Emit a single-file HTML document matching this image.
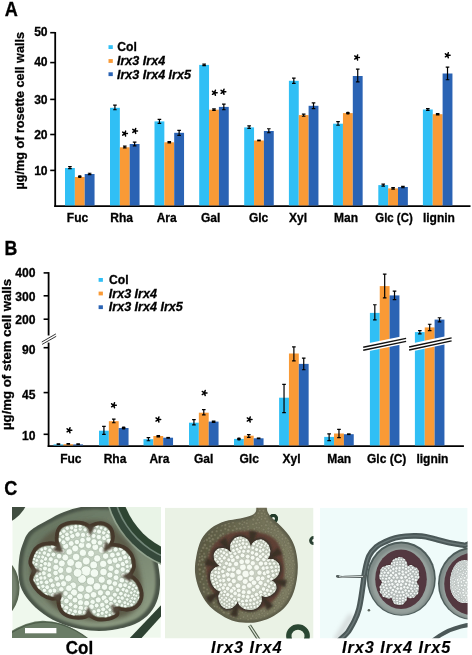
<!DOCTYPE html>
<html><head><meta charset="utf-8"><style>
html,body{margin:0;padding:0;background:#fff;}
svg{display:block;font-family:"Liberation Sans", sans-serif;}
text{opacity:0.999;}
</style></head><body>
<svg width="472" height="655" viewBox="0 0 472 655">
<rect width="472" height="655" fill="#fff"/>
<defs>
<filter id="b1" x="-20%" y="-20%" width="140%" height="140%"><feGaussianBlur stdDeviation="1.2"/></filter>
<filter id="b2" x="-20%" y="-20%" width="140%" height="140%"><feGaussianBlur stdDeviation="0.6"/></filter>
<filter id="b3" x="-20%" y="-20%" width="140%" height="140%"><feGaussianBlur stdDeviation="2.2"/></filter>
<filter id="b4" x="-20%" y="-20%" width="140%" height="140%"><feGaussianBlur stdDeviation="0.35"/></filter>
<filter id="soft" x="0" y="0" width="100%" height="100%"><feGaussianBlur stdDeviation="0.4"/></filter>
<clipPath id="c1"><rect x="12.5" y="507.7" width="148.2" height="130"/></clipPath>
<clipPath id="c2"><rect x="165" y="507.7" width="148.5" height="130.8"/></clipPath>
<clipPath id="c3"><rect x="320" y="507.7" width="147.6" height="130.5"/></clipPath>
</defs>
<g clip-path="url(#c1)"><g filter="url(#soft)">
<rect x="12.5" y="507.7" width="148.2" height="130" fill="#eff8ed"/>
<path d="M10 505H26.5Q21 516 10 522Z" fill="#414d40" filter="url(#b4)"/>
<ellipse cx="-3" cy="588" rx="22.5" ry="31" fill="#56634f" filter="url(#b2)"/>
<ellipse cx="-3.5" cy="588" rx="20.5" ry="28.5" fill="#76836f" filter="url(#b1)"/>
<path d="M8 645L8 633Q30 619.5 46 621Q70 622 95 645Z" fill="#6a7b66" filter="url(#b4)"/>
<path d="M9 634Q30 621 46 622.2Q70 623 93 643" stroke="#4e5e4b" stroke-width="1.3" fill="none" filter="url(#b4)"/>
<path d="M126 642L166 600L166 611L138 642Z" fill="#2e4331" filter="url(#b2)"/>
<path d="M18.5 575.0C18.1 569.3 18.7 561.5 19.5 556.0C20.3 550.5 21.8 546.2 23.5 542.0C25.2 537.8 26.1 534.6 30.0 531.0C33.9 527.4 41.3 523.7 47.0 520.5C52.7 517.3 58.3 514.2 64.0 512.0C69.7 509.8 75.0 508.1 81.0 507.0C87.0 505.9 93.8 505.3 100.0 505.5C106.2 505.7 111.7 505.2 118.0 508.0C124.3 510.8 132.7 516.7 138.0 522.0C143.3 527.3 146.8 533.7 150.0 540.0C153.2 546.3 155.3 553.3 157.0 560.0C158.7 566.7 159.8 573.7 160.0 580.0C160.2 586.3 159.7 592.5 158.0 598.0C156.3 603.5 153.8 608.7 150.0 613.0C146.2 617.3 141.3 621.2 135.0 624.0C128.7 626.8 119.5 628.9 112.0 630.0C104.5 631.1 97.3 631.2 90.0 630.5C82.7 629.8 75.0 628.2 68.0 626.0C61.0 623.8 54.0 620.7 48.0 617.0C42.0 613.3 36.3 608.5 32.0 604.0C27.7 599.5 24.2 594.8 22.0 590.0C19.8 585.2 18.9 580.7 18.5 575.0Z" fill="#4c574a" filter="url(#b4)"/>
<defs><linearGradient id="g1" x1="0" y1="0" x2="0.6" y2="1"><stop offset="0" stop-color="#64725e"/><stop offset="0.5" stop-color="#74826e"/><stop offset="1" stop-color="#8a987f"/></linearGradient></defs>
<path d="M22.6 574.7C22.2 569.4 22.8 562.0 23.6 556.8C24.3 551.7 25.7 547.6 27.3 543.7C29.0 539.8 29.7 536.7 33.4 533.3C37.1 530.0 44.1 526.4 49.4 523.5C54.7 520.5 60.1 517.6 65.4 515.5C70.7 513.4 75.7 511.8 81.4 510.8C87.0 509.8 93.4 509.2 99.2 509.4C105.0 509.5 110.2 509.1 116.1 511.7C122.1 514.3 129.9 519.9 134.9 524.9C140.0 529.9 143.2 535.8 146.2 541.8C149.2 547.8 151.2 554.3 152.8 560.6C154.4 566.9 155.5 573.4 155.6 579.4C155.8 585.4 155.3 591.2 153.7 596.3C152.2 601.5 149.8 606.3 146.2 610.4C142.6 614.5 138.1 618.1 132.1 620.8C126.2 623.4 117.5 625.4 110.5 626.4C103.5 627.4 96.7 627.5 89.8 626.9C82.9 626.2 75.7 624.8 69.1 622.6C62.6 620.5 56.0 617.6 50.3 614.2C44.7 610.7 39.4 606.2 35.3 602.0C31.2 597.7 28.0 593.3 25.9 588.8C23.8 584.3 23.0 580.0 22.6 574.7Z" fill="url(#g1)" filter="url(#b1)"/>
<g filter="url(#b4)">
<circle cx="198" cy="478" r="94.5" fill="#93a490"/>
<circle cx="198" cy="478" r="92.8" fill="#36493a"/>
<circle cx="198" cy="478" r="86.6" fill="#73887a"/>
<circle cx="198" cy="478" r="85" fill="#2f4433"/>
<circle cx="198" cy="478" r="78" fill="#e9f4e7"/>
</g>
<path d="M33.7 551.5C35.1 548.3 37.5 544.6 39.7 541.8C42.0 539.0 44.2 536.7 47.1 534.5C49.9 532.3 53.1 530.2 56.8 528.4C60.5 526.6 64.5 524.7 69.0 523.5C73.5 522.3 79.5 521.6 83.6 521.1C87.7 520.6 90.1 520.4 93.4 520.4C96.6 520.4 99.9 520.2 103.1 521.1C106.3 522.0 110.0 523.7 112.8 526.0C115.7 528.2 117.7 531.9 120.2 534.5C122.6 537.1 125.0 538.6 127.5 541.8C129.9 545.1 132.7 549.1 134.8 554.0C136.8 558.9 138.4 565.4 139.6 571.0C140.9 576.7 141.9 582.8 142.1 588.1C142.3 593.4 142.5 598.7 140.9 602.7C139.2 606.8 135.4 610.0 132.3 612.5C129.3 614.9 126.2 616.1 122.6 617.3C118.9 618.6 114.9 619.2 110.4 619.8C105.9 620.4 100.7 621.2 95.8 621.0C90.9 620.8 86.0 619.6 81.2 618.6C76.3 617.5 71.0 616.7 66.5 614.9C62.1 613.1 58.0 610.4 54.4 607.6C50.7 604.7 47.9 601.1 44.6 597.8C41.4 594.6 37.1 591.8 34.9 588.1C32.6 584.4 31.8 580.4 31.2 575.9C30.6 571.4 30.8 565.4 31.2 561.3C31.6 557.2 32.2 554.8 33.7 551.5Z" fill="#5b5c4a" filter="url(#b3)"/>
<path d="M34.9 554.0C36.1 551.5 37.5 549.3 39.7 547.9C42.0 546.5 45.6 545.7 48.3 545.5C50.9 545.2 53.7 545.5 55.6 546.2C57.5 546.9 59.2 551.1 59.7 549.6C60.3 548.1 58.4 540.5 58.8 536.9C59.1 533.4 59.6 530.4 61.7 528.4C63.8 526.4 68.0 525.3 71.4 524.7C74.9 524.2 79.5 524.6 82.4 525.2C85.2 525.8 87.1 527.4 88.5 528.4C89.8 529.4 89.7 531.3 90.4 531.1C91.2 530.9 91.2 528.2 92.9 527.2C94.6 526.2 98.1 525.0 100.7 525.2C103.2 525.4 106.3 526.5 108.0 528.4C109.7 530.4 110.8 534.2 110.9 536.9C111.0 539.7 109.3 542.8 108.5 544.7C107.6 546.7 105.3 548.3 106.0 548.6C106.8 549.0 110.1 546.6 112.8 546.7C115.6 546.8 119.7 547.5 122.6 549.1C125.4 550.7 128.4 553.6 129.9 556.4C131.4 559.3 132.1 563.3 131.9 566.2C131.6 569.0 129.6 571.8 128.7 573.5C127.8 575.2 125.6 575.4 126.2 576.4C126.9 577.4 130.5 578.0 132.3 579.6C134.2 581.1 136.0 583.0 137.2 585.7C138.4 588.3 139.9 592.4 139.6 595.4C139.4 598.5 138.0 601.9 136.0 603.9C134.0 606.0 130.5 607.2 127.5 607.6C124.4 608.0 120.0 606.3 117.7 606.4C115.5 606.5 114.5 606.9 114.1 608.1C113.7 609.3 116.3 612.2 115.3 613.7C114.3 615.1 110.8 616.2 108.0 616.9C105.1 617.5 101.1 617.9 98.2 617.3C95.4 616.8 92.5 614.7 90.9 613.7C89.3 612.7 89.5 611.3 88.5 611.5C87.5 611.7 87.3 614.3 84.8 614.9C82.4 615.6 77.3 616.0 73.9 615.4C70.4 614.8 66.3 613.4 64.1 611.2C61.9 609.1 60.9 605.2 60.5 602.7C60.1 600.3 61.9 597.8 61.7 596.6C61.5 595.4 60.9 595.4 59.2 595.4C57.6 595.4 54.6 597.0 51.9 596.6C49.3 596.2 45.8 594.6 43.4 593.0C41.0 591.3 39.0 589.2 37.3 586.9C35.6 584.5 33.3 581.5 33.2 578.8C33.0 576.2 36.5 573.5 36.3 570.8C36.2 568.1 32.7 565.6 32.4 562.8C32.2 560.0 33.7 556.5 34.9 554.0Z" fill="#45372c" stroke="#45372c" stroke-width="8" stroke-linejoin="round" filter="url(#b2)"/>
<path d="M34.9 554.0C36.1 551.5 37.5 549.3 39.7 547.9C42.0 546.5 45.6 545.7 48.3 545.5C50.9 545.2 53.7 545.5 55.6 546.2C57.5 546.9 59.2 551.1 59.7 549.6C60.3 548.1 58.4 540.5 58.8 536.9C59.1 533.4 59.6 530.4 61.7 528.4C63.8 526.4 68.0 525.3 71.4 524.7C74.9 524.2 79.5 524.6 82.4 525.2C85.2 525.8 87.1 527.4 88.5 528.4C89.8 529.4 89.7 531.3 90.4 531.1C91.2 530.9 91.2 528.2 92.9 527.2C94.6 526.2 98.1 525.0 100.7 525.2C103.2 525.4 106.3 526.5 108.0 528.4C109.7 530.4 110.8 534.2 110.9 536.9C111.0 539.7 109.3 542.8 108.5 544.7C107.6 546.7 105.3 548.3 106.0 548.6C106.8 549.0 110.1 546.6 112.8 546.7C115.6 546.8 119.7 547.5 122.6 549.1C125.4 550.7 128.4 553.6 129.9 556.4C131.4 559.3 132.1 563.3 131.9 566.2C131.6 569.0 129.6 571.8 128.7 573.5C127.8 575.2 125.6 575.4 126.2 576.4C126.9 577.4 130.5 578.0 132.3 579.6C134.2 581.1 136.0 583.0 137.2 585.7C138.4 588.3 139.9 592.4 139.6 595.4C139.4 598.5 138.0 601.9 136.0 603.9C134.0 606.0 130.5 607.2 127.5 607.6C124.4 608.0 120.0 606.3 117.7 606.4C115.5 606.5 114.5 606.9 114.1 608.1C113.7 609.3 116.3 612.2 115.3 613.7C114.3 615.1 110.8 616.2 108.0 616.9C105.1 617.5 101.1 617.9 98.2 617.3C95.4 616.8 92.5 614.7 90.9 613.7C89.3 612.7 89.5 611.3 88.5 611.5C87.5 611.7 87.3 614.3 84.8 614.9C82.4 615.6 77.3 616.0 73.9 615.4C70.4 614.8 66.3 613.4 64.1 611.2C61.9 609.1 60.9 605.2 60.5 602.7C60.1 600.3 61.9 597.8 61.7 596.6C61.5 595.4 60.9 595.4 59.2 595.4C57.6 595.4 54.6 597.0 51.9 596.6C49.3 596.2 45.8 594.6 43.4 593.0C41.0 591.3 39.0 589.2 37.3 586.9C35.6 584.5 33.3 581.5 33.2 578.8C33.0 576.2 36.5 573.5 36.3 570.8C36.2 568.1 32.7 565.6 32.4 562.8C32.2 560.0 33.7 556.5 34.9 554.0Z" fill="#c3d0c0" stroke="#5f5c4c" stroke-width="0.8" filter="url(#b4)"/>
<clipPath id="p1"><path d="M34.9 554.0C36.1 551.5 37.5 549.3 39.7 547.9C42.0 546.5 45.6 545.7 48.3 545.5C50.9 545.2 53.7 545.5 55.6 546.2C57.5 546.9 59.2 551.1 59.7 549.6C60.3 548.1 58.4 540.5 58.8 536.9C59.1 533.4 59.6 530.4 61.7 528.4C63.8 526.4 68.0 525.3 71.4 524.7C74.9 524.2 79.5 524.6 82.4 525.2C85.2 525.8 87.1 527.4 88.5 528.4C89.8 529.4 89.7 531.3 90.4 531.1C91.2 530.9 91.2 528.2 92.9 527.2C94.6 526.2 98.1 525.0 100.7 525.2C103.2 525.4 106.3 526.5 108.0 528.4C109.7 530.4 110.8 534.2 110.9 536.9C111.0 539.7 109.3 542.8 108.5 544.7C107.6 546.7 105.3 548.3 106.0 548.6C106.8 549.0 110.1 546.6 112.8 546.7C115.6 546.8 119.7 547.5 122.6 549.1C125.4 550.7 128.4 553.6 129.9 556.4C131.4 559.3 132.1 563.3 131.9 566.2C131.6 569.0 129.6 571.8 128.7 573.5C127.8 575.2 125.6 575.4 126.2 576.4C126.9 577.4 130.5 578.0 132.3 579.6C134.2 581.1 136.0 583.0 137.2 585.7C138.4 588.3 139.9 592.4 139.6 595.4C139.4 598.5 138.0 601.9 136.0 603.9C134.0 606.0 130.5 607.2 127.5 607.6C124.4 608.0 120.0 606.3 117.7 606.4C115.5 606.5 114.5 606.9 114.1 608.1C113.7 609.3 116.3 612.2 115.3 613.7C114.3 615.1 110.8 616.2 108.0 616.9C105.1 617.5 101.1 617.9 98.2 617.3C95.4 616.8 92.5 614.7 90.9 613.7C89.3 612.7 89.5 611.3 88.5 611.5C87.5 611.7 87.3 614.3 84.8 614.9C82.4 615.6 77.3 616.0 73.9 615.4C70.4 614.8 66.3 613.4 64.1 611.2C61.9 609.1 60.9 605.2 60.5 602.7C60.1 600.3 61.9 597.8 61.7 596.6C61.5 595.4 60.9 595.4 59.2 595.4C57.6 595.4 54.6 597.0 51.9 596.6C49.3 596.2 45.8 594.6 43.4 593.0C41.0 591.3 39.0 589.2 37.3 586.9C35.6 584.5 33.3 581.5 33.2 578.8C33.0 576.2 36.5 573.5 36.3 570.8C36.2 568.1 32.7 565.6 32.4 562.8C32.2 560.0 33.7 556.5 34.9 554.0Z"/></clipPath>
<g clip-path="url(#p1)"><g fill="#f3fbf2" stroke="#95a692" stroke-width="0.5"><circle cx="86.0" cy="571.0" r="5.2"/><circle cx="82.0" cy="578.9" r="4.4"/><circle cx="77.6" cy="572.8" r="4.4"/><circle cx="78.6" cy="564.9" r="4.0"/><circle cx="86.2" cy="561.0" r="4.0"/><circle cx="93.7" cy="565.0" r="4.0"/><circle cx="94.4" cy="573.1" r="4.3"/><circle cx="90.6" cy="581.0" r="4.1"/><circle cx="89.1" cy="589.2" r="4.0"/><circle cx="80.9" cy="588.6" r="3.7"/><circle cx="73.1" cy="585.5" r="3.5"/><circle cx="68.4" cy="578.3" r="3.6"/><circle cx="68.9" cy="570.0" r="3.5"/><circle cx="70.6" cy="562.5" r="4.0"/><circle cx="76.1" cy="557.0" r="3.8"/><circle cx="82.9" cy="552.8" r="3.7"/><circle cx="91.0" cy="553.5" r="3.5"/><circle cx="97.2" cy="558.4" r="3.6"/><circle cx="103.2" cy="563.9" r="3.7"/><circle cx="103.5" cy="572.0" r="3.8"/><circle cx="101.7" cy="579.7" r="3.6"/><circle cx="96.9" cy="586.4" r="3.9"/><circle cx="86.9" cy="596.3" r="3.3"/><circle cx="79.9" cy="596.4" r="3.4"/><circle cx="74.0" cy="592.5" r="3.6"/><circle cx="68.9" cy="588.2" r="3.3"/><circle cx="63.6" cy="583.7" r="3.1"/><circle cx="61.6" cy="577.0" r="3.0"/><circle cx="60.4" cy="570.2" r="3.4"/><circle cx="61.8" cy="563.4" r="3.5"/><circle cx="65.3" cy="557.5" r="3.4"/><circle cx="69.3" cy="551.9" r="3.3"/><circle cx="75.2" cy="548.4" r="3.5"/><circle cx="81.5" cy="545.1" r="3.3"/><circle cx="88.5" cy="545.6" r="3.1"/><circle cx="95.3" cy="547.1" r="3.4"/><circle cx="101.9" cy="549.9" r="3.5"/><circle cx="105.6" cy="556.1" r="3.2"/><circle cx="109.8" cy="561.6" r="3.0"/><circle cx="110.9" cy="568.4" r="3.1"/><circle cx="109.9" cy="575.0" r="3.1"/><circle cx="109.3" cy="582.0" r="3.1"/><circle cx="104.5" cy="587.1" r="3.2"/><circle cx="100.4" cy="592.8" r="3.1"/><circle cx="93.6" cy="594.8" r="3.3"/><circle cx="109.8" cy="549.6" r="3.1"/><circle cx="112.4" cy="555.1" r="2.9"/><circle cx="115.1" cy="560.3" r="3.1"/><circle cx="117.9" cy="565.8" r="2.7"/><circle cx="116.6" cy="571.9" r="2.8"/><circle cx="116.0" cy="577.7" r="2.9"/><circle cx="114.9" cy="583.6" r="2.8"/><circle cx="111.0" cy="588.1" r="2.9"/><circle cx="107.8" cy="593.1" r="2.9"/><circle cx="104.0" cy="597.9" r="3.0"/><circle cx="98.2" cy="599.9" r="3.0"/><circle cx="92.6" cy="602.0" r="2.7"/><circle cx="86.6" cy="603.2" r="3.0"/><circle cx="80.5" cy="602.7" r="3.1"/><circle cx="75.0" cy="600.1" r="2.9"/><circle cx="70.0" cy="596.9" r="3.0"/><circle cx="65.5" cy="593.4" r="2.7"/><circle cx="61.3" cy="589.3" r="2.7"/><circle cx="58.1" cy="584.4" r="2.7"/><circle cx="56.7" cy="578.7" r="2.7"/><circle cx="55.6" cy="573.0" r="2.8"/><circle cx="55.9" cy="567.3" r="3.1"/><circle cx="56.0" cy="561.2" r="2.7"/><circle cx="59.1" cy="556.1" r="2.8"/><circle cx="62.2" cy="551.1" r="2.7"/><circle cx="65.7" cy="546.1" r="3.1"/><circle cx="71.2" cy="543.5" r="2.9"/><circle cx="76.9" cy="542.0" r="2.7"/><circle cx="82.5" cy="540.2" r="2.8"/><circle cx="88.4" cy="539.0" r="2.7"/><circle cx="94.0" cy="541.8" r="3.1"/><circle cx="99.9" cy="542.8" r="2.7"/><circle cx="105.0" cy="545.9" r="2.7"/><circle cx="48.9" cy="564.4" r="2.7"/><circle cx="50.8" cy="559.2" r="2.5"/><circle cx="53.4" cy="554.5" r="2.4"/><circle cx="55.5" cy="549.5" r="2.6"/><circle cx="63.5" cy="542.3" r="2.5"/><circle cx="67.5" cy="538.5" r="2.8"/><circle cx="72.4" cy="536.1" r="2.7"/><circle cx="77.6" cy="534.5" r="2.7"/><circle cx="83.1" cy="534.9" r="2.6"/><circle cx="88.4" cy="534.6" r="2.4"/><circle cx="93.6" cy="535.9" r="2.5"/><circle cx="98.8" cy="537.0" r="2.7"/><circle cx="104.2" cy="538.0" r="2.6"/><circle cx="108.8" cy="541.1" r="2.8"/><circle cx="115.6" cy="549.6" r="2.5"/><circle cx="118.1" cy="554.2" r="2.4"/><circle cx="120.2" cy="559.1" r="2.6"/><circle cx="122.9" cy="564.0" r="2.7"/><circle cx="122.7" cy="569.4" r="2.6"/><circle cx="123.2" cy="574.9" r="2.4"/><circle cx="121.9" cy="580.2" r="2.8"/><circle cx="120.4" cy="585.4" r="2.7"/><circle cx="117.5" cy="589.9" r="2.4"/><circle cx="114.8" cy="594.7" r="2.5"/><circle cx="111.1" cy="598.7" r="2.8"/><circle cx="106.4" cy="601.4" r="2.5"/><circle cx="102.2" cy="605.0" r="2.7"/><circle cx="96.6" cy="605.5" r="2.4"/><circle cx="91.5" cy="606.7" r="2.8"/><circle cx="86.2" cy="608.4" r="2.4"/><circle cx="80.8" cy="608.0" r="2.8"/><circle cx="75.5" cy="606.6" r="2.5"/><circle cx="70.6" cy="604.5" r="2.4"/><circle cx="66.4" cy="601.0" r="2.8"/><circle cx="61.4" cy="598.8" r="2.6"/><circle cx="57.2" cy="595.2" r="2.5"/><circle cx="54.1" cy="590.7" r="2.7"/><circle cx="52.7" cy="585.4" r="2.5"/><circle cx="50.9" cy="580.4" r="2.5"/><circle cx="49.3" cy="575.3" r="2.5"/><circle cx="49.4" cy="569.9" r="2.4"/><circle cx="120.9" cy="548.8" r="2.3"/><circle cx="123.6" cy="552.8" r="2.5"/><circle cx="125.1" cy="557.3" r="2.5"/><circle cx="126.6" cy="561.8" r="2.3"/><circle cx="127.4" cy="566.5" r="2.1"/><circle cx="127.5" cy="571.2" r="2.2"/><circle cx="127.0" cy="580.8" r="2.2"/><circle cx="125.1" cy="585.2" r="2.4"/><circle cx="123.3" cy="589.6" r="2.2"/><circle cx="120.9" cy="593.7" r="2.3"/><circle cx="118.4" cy="597.8" r="2.1"/><circle cx="114.9" cy="601.1" r="2.2"/><circle cx="111.0" cy="603.8" r="2.4"/><circle cx="107.3" cy="606.8" r="2.3"/><circle cx="103.2" cy="609.4" r="2.5"/><circle cx="98.6" cy="610.6" r="2.3"/><circle cx="94.0" cy="611.8" r="2.3"/><circle cx="84.6" cy="612.5" r="2.3"/><circle cx="79.8" cy="612.1" r="2.5"/><circle cx="75.1" cy="611.5" r="2.4"/><circle cx="70.4" cy="610.4" r="2.2"/><circle cx="66.3" cy="607.8" r="2.5"/><circle cx="62.0" cy="605.7" r="2.2"/><circle cx="52.8" cy="594.8" r="2.2"/><circle cx="50.3" cy="590.9" r="2.4"/><circle cx="47.1" cy="587.2" r="2.5"/><circle cx="46.6" cy="582.3" r="2.4"/><circle cx="44.7" cy="577.9" r="2.2"/><circle cx="43.8" cy="573.2" r="2.5"/><circle cx="45.0" cy="568.4" r="2.5"/><circle cx="45.2" cy="563.7" r="2.3"/><circle cx="45.3" cy="558.8" r="2.4"/><circle cx="48.3" cy="554.8" r="2.3"/><circle cx="49.9" cy="550.3" r="2.2"/><circle cx="52.9" cy="546.7" r="2.2"/><circle cx="59.5" cy="540.0" r="2.3"/><circle cx="62.8" cy="536.6" r="2.1"/><circle cx="66.9" cy="534.3" r="2.3"/><circle cx="71.1" cy="532.1" r="2.1"/><circle cx="75.4" cy="529.9" r="2.4"/><circle cx="80.2" cy="529.0" r="2.1"/><circle cx="85.1" cy="529.8" r="2.1"/><circle cx="94.4" cy="530.7" r="2.2"/><circle cx="99.0" cy="531.6" r="2.5"/><circle cx="103.7" cy="532.8" r="2.2"/><circle cx="107.4" cy="536.0" r="2.5"/><circle cx="129.2" cy="587.3" r="2.0"/><circle cx="126.7" cy="590.9" r="2.2"/><circle cx="125.4" cy="595.1" r="2.2"/><circle cx="122.2" cy="598.1" r="2.2"/><circle cx="119.5" cy="601.4" r="2.2"/><circle cx="116.9" cy="604.8" r="2.0"/><circle cx="113.7" cy="607.7" r="2.2"/><circle cx="109.9" cy="609.8" r="1.9"/><circle cx="106.4" cy="612.2" r="2.0"/><circle cx="102.2" cy="613.3" r="2.0"/><circle cx="98.1" cy="614.6" r="2.0"/><circle cx="73.0" cy="614.5" r="2.0"/><circle cx="69.0" cy="612.9" r="2.0"/><circle cx="65.2" cy="611.1" r="2.1"/><circle cx="45.9" cy="594.4" r="2.0"/><circle cx="44.4" cy="590.4" r="2.2"/><circle cx="42.9" cy="586.3" r="2.1"/><circle cx="41.2" cy="582.3" r="2.2"/><circle cx="40.9" cy="578.0" r="2.2"/><circle cx="39.8" cy="573.8" r="2.1"/><circle cx="40.3" cy="569.5" r="2.0"/><circle cx="41.1" cy="565.3" r="1.9"/><circle cx="41.8" cy="561.1" r="2.2"/><circle cx="42.7" cy="556.9" r="2.0"/><circle cx="44.4" cy="553.0" r="2.2"/><circle cx="45.2" cy="548.6" r="2.1"/><circle cx="60.4" cy="533.5" r="2.0"/><circle cx="63.9" cy="531.2" r="2.2"/><circle cx="67.3" cy="528.3" r="2.1"/><circle cx="71.7" cy="527.8" r="2.2"/><circle cx="75.8" cy="526.5" r="2.0"/><circle cx="80.1" cy="526.2" r="2.0"/><circle cx="97.1" cy="526.4" r="1.9"/><circle cx="101.1" cy="528.0" r="1.9"/><circle cx="105.2" cy="529.4" r="1.9"/><circle cx="108.7" cy="531.9" r="2.0"/><circle cx="129.8" cy="557.7" r="2.0"/><circle cx="131.1" cy="566.1" r="2.1"/><circle cx="130.9" cy="583.3" r="2.1"/><circle cx="133.7" cy="585.3" r="1.9"/><circle cx="132.6" cy="589.1" r="1.7"/><circle cx="131.2" cy="592.7" r="1.8"/><circle cx="128.5" cy="595.7" r="1.8"/><circle cx="127.2" cy="599.5" r="1.8"/><circle cx="124.9" cy="602.7" r="2.0"/><circle cx="122.0" cy="605.4" r="1.8"/><circle cx="113.2" cy="613.2" r="1.9"/><circle cx="109.7" cy="615.0" r="1.7"/><circle cx="105.9" cy="616.1" r="1.8"/><circle cx="38.6" cy="587.6" r="2.0"/><circle cx="37.9" cy="583.7" r="1.8"/><circle cx="37.4" cy="579.8" r="2.0"/><circle cx="36.9" cy="576.0" r="1.9"/><circle cx="36.7" cy="572.1" r="1.9"/><circle cx="35.6" cy="568.2" r="1.8"/><circle cx="36.2" cy="564.3" r="1.9"/><circle cx="36.8" cy="560.4" r="1.9"/><circle cx="38.7" cy="556.8" r="2.0"/><circle cx="39.6" cy="553.0" r="1.7"/><circle cx="41.8" cy="549.7" r="1.9"/><circle cx="136.2" cy="588.0" r="1.7"/><circle cx="134.8" cy="591.4" r="1.7"/><circle cx="134.2" cy="595.1" r="1.8"/><circle cx="132.3" cy="598.2" r="1.8"/><circle cx="130.5" cy="601.3" r="1.8"/><circle cx="128.0" cy="603.9" r="1.8"/><circle cx="125.2" cy="606.3" r="1.8"/><circle cx="33.8" cy="580.5" r="1.7"/><circle cx="33.3" cy="562.6" r="1.7"/><circle cx="34.2" cy="559.1" r="1.6"/><circle cx="35.2" cy="555.7" r="1.9"/><circle cx="36.6" cy="552.3" r="1.7"/><circle cx="137.8" cy="592.7" r="1.8"/><circle cx="136.3" cy="595.7" r="1.5"/><circle cx="134.7" cy="598.7" r="1.6"/><circle cx="133.8" cy="602.1" r="1.7"/><circle cx="131.6" cy="604.8" r="1.8"/><circle cx="138.9" cy="597.8" r="1.6"/></g></g>
<path d="M63.6 552.8L59.3 542.2L52.4 550.7Z" fill="#4f4538" filter="url(#b1)"/>
<path d="M89.9 536.1L94.9 526.5L86.9 525.7Z" fill="#4f4538" filter="url(#b1)"/>
<path d="M102.8 552.4L113.1 548.1L105.5 541.6Z" fill="#4f4538" filter="url(#b1)"/>
<path d="M121.3 575.8L130.6 582.0L131.8 572.1Z" fill="#4f4538" filter="url(#b1)"/>
<path d="M111.1 604.1L113.5 614.8L120.7 609.4Z" fill="#4f4538" filter="url(#b1)"/>
<path d="M88.2 606.5L84.2 616.7L93.2 616.3Z" fill="#4f4538" filter="url(#b1)"/>
<path d="M63.0 592.1L52.2 594.9L58.8 602.5Z" fill="#4f4538" filter="url(#b1)"/>
<path d="M41.3 570.9L31.4 566.7L31.3 574.7Z" fill="#4f4538" filter="url(#b1)"/>
<rect x="25" y="628" width="31.4" height="5.3" fill="#fff"/>
</g></g>
<g clip-path="url(#c2)"><g filter="url(#soft)">
<rect x="165" y="507.7" width="148.5" height="130.8" fill="#eaf2e5"/>
<circle cx="273.4" cy="518.6" r="3.2" fill="none" stroke="#243b2a" stroke-width="3.2" filter="url(#b4)"/>
<circle cx="313.6" cy="540.6" r="3.0" fill="none" stroke="#2a4030" stroke-width="3.0" filter="url(#b4)"/>
<circle cx="298" cy="636.2" r="9.2" fill="none" stroke="#2c4731" stroke-width="5.4" filter="url(#b4)"/>
<path d="M249.5 625.4L259 640" stroke="#4c5a46" stroke-width="3.4" filter="url(#b4)"/>
<path d="M249.5 625.4L259 640" stroke="#dfe8da" stroke-width="1.3" filter="url(#b4)"/>
<path d="M225.0 521.2C229.8 519.6 235.8 519.3 240.1 518.4C244.5 517.5 248.5 516.7 251.1 515.6C253.7 514.5 254.8 513.3 255.7 511.9C256.6 510.5 256.2 508.7 256.4 507.2C256.6 505.7 255.3 503.7 256.9 503.0C258.5 502.3 264.6 502.3 266.2 503.0C267.8 503.7 266.4 505.7 266.7 507.2C266.9 508.7 266.8 510.2 267.6 511.9C268.4 513.6 269.4 515.1 271.6 517.5C273.7 519.8 277.5 522.8 280.4 525.8C283.3 528.9 286.6 532.1 289.0 535.6C291.5 539.2 293.4 542.6 294.9 547.3C296.3 551.9 297.4 558.2 297.7 563.6C298.0 569.0 297.7 574.5 296.7 579.9C295.8 585.4 294.3 591.4 292.1 596.2C289.8 601.1 286.8 605.5 283.2 609.0C279.6 612.6 274.7 615.5 270.4 617.7C266.1 619.8 261.7 621.0 257.6 621.9C253.5 622.7 250.2 623.0 245.9 622.8C241.7 622.6 236.6 622.1 231.9 620.5C227.3 618.8 222.0 615.8 218.0 613.0C213.9 610.2 210.6 607.6 207.5 603.7C204.4 599.8 201.4 594.8 199.3 589.7C197.3 584.6 195.6 578.4 195.1 572.9C194.6 567.4 195.3 562.1 196.3 556.6C197.3 551.1 198.7 544.6 201.2 539.8C203.6 535.1 207.0 531.3 211.0 528.2C214.9 525.1 220.1 522.8 225.0 521.2Z" fill="#5c5b48" filter="url(#b2)"/>
<defs><linearGradient id="g2" x1="0" y1="0" x2="1" y2="0.3"><stop offset="0" stop-color="#525039"/><stop offset="0.55" stop-color="#706f56"/><stop offset="1" stop-color="#7e7d63"/></linearGradient></defs>
<path d="M226.0 523.7C230.6 522.1 236.2 521.9 240.3 521.0C244.5 520.1 248.0 519.9 250.8 518.4C253.5 516.8 255.8 513.7 256.9 511.9C258.1 510.0 257.4 508.7 257.6 507.2C257.8 505.7 256.9 503.7 258.1 503.0C259.3 502.3 263.8 502.3 265.0 503.0C266.2 503.7 265.2 505.7 265.5 507.2C265.7 508.7 265.6 509.7 266.4 511.9C267.2 514.0 268.2 517.4 270.2 520.1C272.3 522.8 275.9 525.2 278.7 528.1C281.4 531.0 284.6 534.0 286.8 537.4C289.1 540.8 291.0 544.0 292.4 548.5C293.7 552.9 294.7 558.8 295.0 564.0C295.3 569.1 295.0 574.3 294.1 579.5C293.3 584.6 291.9 590.4 289.7 595.0C287.6 599.6 284.7 603.7 281.3 607.1C277.9 610.5 273.2 613.3 269.1 615.3C265.1 617.4 260.8 618.5 257.0 619.3C253.1 620.1 249.9 620.4 245.9 620.2C241.8 620.0 237.0 619.5 232.6 618.0C228.2 616.4 223.2 613.6 219.3 610.9C215.4 608.2 212.3 605.7 209.4 602.1C206.4 598.4 203.6 593.6 201.6 588.8C199.7 583.9 198.1 578.1 197.6 572.8C197.1 567.6 197.8 562.6 198.7 557.3C199.7 552.1 201.1 545.9 203.4 541.4C205.7 536.9 208.9 533.3 212.7 530.3C216.4 527.4 221.3 525.2 226.0 523.7Z" fill="url(#g2)" filter="url(#b1)"/>
<clipPath id="q2"><path d="M226.0 523.7C230.6 522.1 236.2 521.9 240.3 521.0C244.5 520.1 248.0 519.9 250.8 518.4C253.5 516.8 255.8 513.7 256.9 511.9C258.1 510.0 257.4 508.7 257.6 507.2C257.8 505.7 256.9 503.7 258.1 503.0C259.3 502.3 263.8 502.3 265.0 503.0C266.2 503.7 265.2 505.7 265.5 507.2C265.7 508.7 265.6 509.7 266.4 511.9C267.2 514.0 268.2 517.4 270.2 520.1C272.3 522.8 275.9 525.2 278.7 528.1C281.4 531.0 284.6 534.0 286.8 537.4C289.1 540.8 291.0 544.0 292.4 548.5C293.7 552.9 294.7 558.8 295.0 564.0C295.3 569.1 295.0 574.3 294.1 579.5C293.3 584.6 291.9 590.4 289.7 595.0C287.6 599.6 284.7 603.7 281.3 607.1C277.9 610.5 273.2 613.3 269.1 615.3C265.1 617.4 260.8 618.5 257.0 619.3C253.1 620.1 249.9 620.4 245.9 620.2C241.8 620.0 237.0 619.5 232.6 618.0C228.2 616.4 223.2 613.6 219.3 610.9C215.4 608.2 212.3 605.7 209.4 602.1C206.4 598.4 203.6 593.6 201.6 588.8C199.7 583.9 198.1 578.1 197.6 572.8C197.1 567.6 197.8 562.6 198.7 557.3C199.7 552.1 201.1 545.9 203.4 541.4C205.7 536.9 208.9 533.3 212.7 530.3C216.4 527.4 221.3 525.2 226.0 523.7Z"/></clipPath>
<g clip-path="url(#q2)" opacity="0.6"><g fill="#8f8d73" stroke="#5c5a45" stroke-width="0.45"><circle cx="231.2" cy="615.9" r="1.4"/><circle cx="236.2" cy="568.8" r="1.4"/><circle cx="240.2" cy="576.6" r="1.5"/><circle cx="230.4" cy="565.0" r="1.5"/><circle cx="212.8" cy="539.2" r="1.5"/><circle cx="279.5" cy="562.9" r="1.2"/><circle cx="286.4" cy="584.5" r="1.5"/><circle cx="211.4" cy="535.8" r="1.4"/><circle cx="246.8" cy="523.4" r="1.3"/><circle cx="259.5" cy="573.9" r="1.3"/><circle cx="237.3" cy="596.4" r="1.3"/><circle cx="281.1" cy="571.9" r="1.4"/><circle cx="215.5" cy="561.1" r="1.4"/><circle cx="222.5" cy="579.3" r="1.4"/><circle cx="248.6" cy="600.7" r="1.4"/><circle cx="273.8" cy="539.8" r="1.4"/><circle cx="230.9" cy="555.3" r="1.3"/><circle cx="293.0" cy="554.0" r="1.4"/><circle cx="282.4" cy="538.8" r="1.5"/><circle cx="278.4" cy="537.5" r="1.4"/><circle cx="293.1" cy="560.8" r="1.5"/><circle cx="220.2" cy="548.0" r="1.4"/><circle cx="218.0" cy="538.1" r="1.5"/><circle cx="244.7" cy="597.0" r="1.3"/><circle cx="213.1" cy="544.1" r="1.3"/><circle cx="207.1" cy="565.5" r="1.3"/><circle cx="279.4" cy="543.3" r="1.3"/><circle cx="214.9" cy="535.0" r="1.3"/><circle cx="211.3" cy="586.5" r="1.2"/><circle cx="222.9" cy="602.2" r="1.2"/><circle cx="240.5" cy="602.3" r="1.5"/><circle cx="233.8" cy="617.2" r="1.3"/><circle cx="222.0" cy="610.0" r="1.4"/><circle cx="232.9" cy="530.5" r="1.4"/><circle cx="217.1" cy="606.7" r="1.2"/><circle cx="247.6" cy="566.6" r="1.3"/><circle cx="273.9" cy="547.4" r="1.4"/><circle cx="253.2" cy="538.3" r="1.3"/><circle cx="228.1" cy="581.2" r="1.2"/><circle cx="252.6" cy="544.5" r="1.4"/><circle cx="224.2" cy="549.6" r="1.5"/><circle cx="274.3" cy="608.0" r="1.5"/><circle cx="208.9" cy="534.2" r="1.2"/><circle cx="264.6" cy="581.3" r="1.3"/><circle cx="237.4" cy="580.8" r="1.4"/><circle cx="259.4" cy="522.6" r="1.2"/><circle cx="288.3" cy="589.9" r="1.4"/><circle cx="213.7" cy="602.7" r="1.4"/><circle cx="268.3" cy="531.5" r="1.3"/><circle cx="265.0" cy="543.0" r="1.2"/><circle cx="280.3" cy="595.1" r="1.3"/><circle cx="275.9" cy="526.1" r="1.5"/><circle cx="235.5" cy="591.5" r="1.5"/><circle cx="238.6" cy="613.8" r="1.4"/><circle cx="270.6" cy="601.6" r="1.4"/><circle cx="239.0" cy="562.8" r="1.5"/><circle cx="208.4" cy="593.3" r="1.2"/><circle cx="266.9" cy="598.6" r="1.3"/><circle cx="251.0" cy="618.5" r="1.4"/><circle cx="250.8" cy="530.9" r="1.2"/><circle cx="231.8" cy="550.6" r="1.3"/><circle cx="263.6" cy="529.5" r="1.3"/><circle cx="247.9" cy="554.7" r="1.5"/><circle cx="231.2" cy="536.9" r="1.5"/><circle cx="209.9" cy="569.1" r="1.3"/><circle cx="278.4" cy="567.3" r="1.5"/><circle cx="212.7" cy="581.7" r="1.4"/><circle cx="242.4" cy="593.8" r="1.5"/><circle cx="215.5" cy="585.9" r="1.3"/><circle cx="206.9" cy="540.0" r="1.4"/><circle cx="204.0" cy="587.8" r="1.5"/><circle cx="239.6" cy="523.6" r="1.4"/><circle cx="259.3" cy="614.4" r="1.4"/><circle cx="221.0" cy="530.4" r="1.2"/><circle cx="275.2" cy="601.6" r="1.4"/><circle cx="228.7" cy="523.0" r="1.5"/><circle cx="228.0" cy="545.4" r="1.4"/><circle cx="233.0" cy="601.7" r="1.3"/><circle cx="199.7" cy="569.5" r="1.4"/><circle cx="278.8" cy="586.4" r="1.5"/><circle cx="203.6" cy="584.3" r="1.2"/><circle cx="240.5" cy="618.6" r="1.2"/><circle cx="199.5" cy="554.0" r="1.3"/><circle cx="238.3" cy="541.7" r="1.3"/><circle cx="263.2" cy="601.1" r="1.5"/><circle cx="257.4" cy="536.7" r="1.4"/><circle cx="225.9" cy="542.3" r="1.5"/><circle cx="233.3" cy="571.2" r="1.3"/><circle cx="249.3" cy="569.3" r="1.3"/><circle cx="221.0" cy="560.1" r="1.4"/><circle cx="218.5" cy="570.2" r="1.2"/><circle cx="247.6" cy="572.2" r="1.2"/><circle cx="283.3" cy="567.5" r="1.4"/><circle cx="252.7" cy="594.9" r="1.2"/><circle cx="238.8" cy="608.7" r="1.4"/><circle cx="230.2" cy="593.5" r="1.4"/><circle cx="199.9" cy="574.0" r="1.2"/><circle cx="251.3" cy="598.3" r="1.2"/><circle cx="289.6" cy="582.7" r="1.3"/><circle cx="215.1" cy="554.9" r="1.5"/><circle cx="206.7" cy="598.0" r="1.3"/><circle cx="251.8" cy="535.8" r="1.4"/><circle cx="250.2" cy="584.5" r="1.5"/><circle cx="210.8" cy="561.6" r="1.5"/><circle cx="278.7" cy="583.2" r="1.3"/><circle cx="235.5" cy="606.8" r="1.4"/><circle cx="286.4" cy="572.2" r="1.2"/><circle cx="254.1" cy="547.7" r="1.3"/><circle cx="223.2" cy="533.8" r="1.4"/><circle cx="222.1" cy="569.8" r="1.4"/><circle cx="274.2" cy="577.6" r="1.4"/><circle cx="226.4" cy="593.5" r="1.4"/><circle cx="247.2" cy="577.8" r="1.3"/><circle cx="251.5" cy="549.9" r="1.2"/><circle cx="229.7" cy="539.8" r="1.5"/><circle cx="244.4" cy="545.2" r="1.3"/><circle cx="219.3" cy="543.0" r="1.2"/><circle cx="240.8" cy="569.7" r="1.3"/><circle cx="226.8" cy="589.0" r="1.4"/><circle cx="274.2" cy="552.6" r="1.5"/><circle cx="202.3" cy="559.5" r="1.5"/><circle cx="256.8" cy="605.7" r="1.4"/><circle cx="215.5" cy="589.9" r="1.5"/><circle cx="284.5" cy="542.0" r="1.2"/><circle cx="214.6" cy="565.9" r="1.5"/><circle cx="201.3" cy="550.9" r="1.2"/><circle cx="259.1" cy="541.2" r="1.4"/><circle cx="256.3" cy="531.8" r="1.4"/><circle cx="269.1" cy="540.6" r="1.2"/><circle cx="262.3" cy="573.7" r="1.3"/><circle cx="273.1" cy="595.0" r="1.3"/><circle cx="223.8" cy="564.2" r="1.5"/><circle cx="262.1" cy="594.8" r="1.3"/><circle cx="274.6" cy="530.0" r="1.5"/><circle cx="276.9" cy="556.5" r="1.3"/><circle cx="202.1" cy="579.1" r="1.3"/><circle cx="259.2" cy="527.8" r="1.3"/><circle cx="222.1" cy="553.3" r="1.3"/><circle cx="216.1" cy="592.9" r="1.4"/><circle cx="253.4" cy="519.6" r="1.5"/><circle cx="244.8" cy="609.0" r="1.2"/><circle cx="254.4" cy="608.0" r="1.3"/><circle cx="268.3" cy="607.9" r="1.5"/><circle cx="265.6" cy="505.1" r="1.4"/><circle cx="219.0" cy="552.9" r="1.2"/><circle cx="209.3" cy="552.7" r="1.3"/><circle cx="265.2" cy="518.5" r="1.4"/><circle cx="245.9" cy="612.4" r="1.3"/><circle cx="247.2" cy="550.2" r="1.4"/><circle cx="261.9" cy="566.7" r="1.4"/><circle cx="268.4" cy="549.1" r="1.3"/><circle cx="234.6" cy="550.4" r="1.2"/><circle cx="271.3" cy="604.4" r="1.4"/><circle cx="259.5" cy="591.0" r="1.3"/><circle cx="257.8" cy="583.0" r="1.3"/><circle cx="243.6" cy="588.4" r="1.4"/><circle cx="243.9" cy="527.4" r="1.2"/><circle cx="289.8" cy="564.9" r="1.4"/><circle cx="280.1" cy="600.1" r="1.2"/><circle cx="231.7" cy="598.3" r="1.4"/><circle cx="248.4" cy="529.4" r="1.3"/><circle cx="215.9" cy="570.0" r="1.2"/><circle cx="228.4" cy="529.9" r="1.5"/><circle cx="258.3" cy="545.7" r="1.2"/><circle cx="240.5" cy="545.2" r="1.4"/><circle cx="254.3" cy="613.1" r="1.3"/><circle cx="263.1" cy="540.6" r="1.2"/><circle cx="245.4" cy="562.8" r="1.5"/><circle cx="263.6" cy="590.7" r="1.3"/><circle cx="267.8" cy="559.3" r="1.2"/><circle cx="265.7" cy="551.4" r="1.4"/><circle cx="210.3" cy="541.2" r="1.4"/><circle cx="222.1" cy="538.6" r="1.3"/><circle cx="283.6" cy="598.2" r="1.5"/><circle cx="250.0" cy="546.0" r="1.4"/><circle cx="228.4" cy="533.8" r="1.5"/><circle cx="255.7" cy="555.9" r="1.5"/><circle cx="276.9" cy="561.2" r="1.4"/><circle cx="264.1" cy="536.4" r="1.3"/><circle cx="225.3" cy="528.8" r="1.4"/><circle cx="227.9" cy="568.8" r="1.2"/><circle cx="288.2" cy="540.0" r="1.5"/><circle cx="210.9" cy="597.8" r="1.5"/><circle cx="205.0" cy="557.0" r="1.4"/><circle cx="239.2" cy="583.2" r="1.2"/><circle cx="244.7" cy="605.7" r="1.4"/><circle cx="256.3" cy="618.3" r="1.3"/><circle cx="291.5" cy="580.4" r="1.2"/><circle cx="270.9" cy="522.3" r="1.5"/><circle cx="205.2" cy="567.7" r="1.5"/><circle cx="233.6" cy="581.2" r="1.2"/><circle cx="281.1" cy="606.9" r="1.4"/><circle cx="207.4" cy="560.9" r="1.4"/><circle cx="249.9" cy="562.2" r="1.3"/><circle cx="215.6" cy="549.7" r="1.3"/><circle cx="253.5" cy="584.4" r="1.3"/><circle cx="225.1" cy="608.9" r="1.2"/><circle cx="254.3" cy="529.0" r="1.4"/><circle cx="275.2" cy="587.1" r="1.2"/><circle cx="220.4" cy="573.5" r="1.5"/><circle cx="242.4" cy="612.6" r="1.2"/><circle cx="291.1" cy="550.7" r="1.3"/><circle cx="274.7" cy="611.1" r="1.5"/><circle cx="209.2" cy="601.4" r="1.5"/><circle cx="277.0" cy="572.4" r="1.3"/><circle cx="265.1" cy="587.0" r="1.3"/><circle cx="275.2" cy="597.1" r="1.4"/><circle cx="230.0" cy="572.9" r="1.5"/><circle cx="238.0" cy="574.1" r="1.4"/><circle cx="229.6" cy="526.5" r="1.3"/><circle cx="281.3" cy="575.9" r="1.3"/><circle cx="207.7" cy="583.7" r="1.2"/><circle cx="235.6" cy="561.3" r="1.5"/><circle cx="241.7" cy="599.1" r="1.3"/><circle cx="283.1" cy="563.1" r="1.3"/><circle cx="203.2" cy="576.5" r="1.3"/><circle cx="264.3" cy="611.0" r="1.4"/><circle cx="269.6" cy="591.8" r="1.2"/><circle cx="271.5" cy="578.6" r="1.3"/><circle cx="273.0" cy="535.9" r="1.4"/><circle cx="211.9" cy="590.4" r="1.2"/><circle cx="259.5" cy="532.1" r="1.5"/><circle cx="272.1" cy="583.1" r="1.3"/><circle cx="261.0" cy="618.3" r="1.4"/><circle cx="265.8" cy="594.8" r="1.3"/><circle cx="291.1" cy="590.9" r="1.3"/><circle cx="235.4" cy="598.6" r="1.3"/><circle cx="214.3" cy="606.6" r="1.4"/><circle cx="263.4" cy="570.9" r="1.3"/><circle cx="278.9" cy="579.5" r="1.5"/><circle cx="256.8" cy="600.9" r="1.3"/><circle cx="217.1" cy="527.7" r="1.2"/><circle cx="232.0" cy="585.7" r="1.2"/><circle cx="259.4" cy="517.4" r="1.3"/><circle cx="217.6" cy="597.1" r="1.3"/><circle cx="209.1" cy="555.8" r="1.4"/><circle cx="267.5" cy="555.9" r="1.3"/><circle cx="212.1" cy="577.5" r="1.5"/><circle cx="231.6" cy="610.0" r="1.5"/><circle cx="243.9" cy="600.6" r="1.2"/><circle cx="216.7" cy="531.2" r="1.2"/><circle cx="285.5" cy="559.5" r="1.4"/><circle cx="255.0" cy="578.0" r="1.4"/><circle cx="261.5" cy="584.8" r="1.4"/><circle cx="261.6" cy="525.7" r="1.3"/><circle cx="281.9" cy="603.8" r="1.2"/><circle cx="210.5" cy="574.3" r="1.5"/><circle cx="270.0" cy="597.5" r="1.5"/><circle cx="264.7" cy="604.0" r="1.3"/><circle cx="240.4" cy="586.5" r="1.3"/><circle cx="227.4" cy="576.8" r="1.3"/><circle cx="249.4" cy="579.6" r="1.4"/><circle cx="240.7" cy="589.2" r="1.2"/><circle cx="255.1" cy="581.0" r="1.3"/><circle cx="232.4" cy="588.5" r="1.2"/><circle cx="276.4" cy="535.2" r="1.3"/><circle cx="260.7" cy="557.9" r="1.5"/><circle cx="244.4" cy="522.4" r="1.2"/><circle cx="261.9" cy="563.2" r="1.2"/><circle cx="271.6" cy="571.5" r="1.5"/><circle cx="247.5" cy="616.0" r="1.4"/><circle cx="228.2" cy="550.1" r="1.3"/><circle cx="263.5" cy="503.3" r="1.3"/><circle cx="252.6" cy="587.2" r="1.2"/><circle cx="241.5" cy="550.3" r="1.5"/><circle cx="249.3" cy="603.9" r="1.5"/><circle cx="263.8" cy="597.9" r="1.2"/><circle cx="243.8" cy="583.0" r="1.4"/><circle cx="270.2" cy="544.3" r="1.4"/><circle cx="209.3" cy="549.9" r="1.3"/><circle cx="203.4" cy="571.4" r="1.5"/><circle cx="237.9" cy="558.8" r="1.3"/><circle cx="222.2" cy="596.9" r="1.4"/><circle cx="230.2" cy="560.4" r="1.3"/><circle cx="289.9" cy="568.7" r="1.2"/><circle cx="268.4" cy="528.4" r="1.5"/><circle cx="258.0" cy="610.3" r="1.3"/><circle cx="242.4" cy="524.6" r="1.2"/><circle cx="268.3" cy="564.9" r="1.5"/><circle cx="244.6" cy="531.2" r="1.4"/><circle cx="258.4" cy="513.3" r="1.3"/><circle cx="213.1" cy="593.6" r="1.3"/><circle cx="243.5" cy="617.0" r="1.4"/><circle cx="224.8" cy="557.1" r="1.4"/><circle cx="238.0" cy="600.6" r="1.5"/><circle cx="228.7" cy="603.8" r="1.5"/><circle cx="222.5" cy="545.0" r="1.3"/><circle cx="231.3" cy="546.6" r="1.2"/><circle cx="278.1" cy="531.3" r="1.4"/><circle cx="250.3" cy="541.5" r="1.5"/><circle cx="241.8" cy="541.8" r="1.5"/><circle cx="227.1" cy="606.9" r="1.4"/><circle cx="248.2" cy="559.4" r="1.3"/><circle cx="285.0" cy="581.5" r="1.3"/><circle cx="268.4" cy="552.8" r="1.2"/><circle cx="267.6" cy="613.7" r="1.3"/><circle cx="271.6" cy="529.4" r="1.3"/><circle cx="227.6" cy="561.9" r="1.3"/><circle cx="244.2" cy="554.1" r="1.5"/><circle cx="215.6" cy="572.6" r="1.2"/><circle cx="234.9" cy="544.7" r="1.5"/><circle cx="251.5" cy="612.8" r="1.2"/><circle cx="289.5" cy="553.3" r="1.3"/><circle cx="267.5" cy="577.2" r="1.2"/><circle cx="213.3" cy="547.2" r="1.4"/><circle cx="287.4" cy="597.0" r="1.5"/><circle cx="257.6" cy="519.8" r="1.5"/><circle cx="284.1" cy="554.3" r="1.4"/><circle cx="221.5" cy="589.4" r="1.4"/><circle cx="217.3" cy="580.2" r="1.3"/><circle cx="277.7" cy="592.9" r="1.3"/><circle cx="283.3" cy="549.4" r="1.5"/><circle cx="208.8" cy="578.0" r="1.3"/><circle cx="220.8" cy="599.7" r="1.2"/><circle cx="285.6" cy="545.3" r="1.5"/><circle cx="252.7" cy="616.0" r="1.4"/><circle cx="255.3" cy="598.0" r="1.2"/><circle cx="234.9" cy="541.3" r="1.5"/><circle cx="203.8" cy="540.9" r="1.2"/><circle cx="261.4" cy="552.1" r="1.3"/><circle cx="259.0" cy="507.6" r="1.4"/><circle cx="266.4" cy="570.9" r="1.5"/><circle cx="283.4" cy="578.0" r="1.2"/><circle cx="284.1" cy="587.8" r="1.2"/><circle cx="294.0" cy="578.9" r="1.5"/><circle cx="253.0" cy="524.4" r="1.4"/><circle cx="272.2" cy="589.8" r="1.3"/><circle cx="264.2" cy="577.8" r="1.4"/><circle cx="276.4" cy="590.3" r="1.4"/><circle cx="233.0" cy="533.4" r="1.4"/><circle cx="225.3" cy="524.9" r="1.5"/><circle cx="219.9" cy="604.8" r="1.3"/><circle cx="274.4" cy="558.8" r="1.5"/><circle cx="259.0" cy="595.2" r="1.5"/><circle cx="258.0" cy="569.1" r="1.3"/><circle cx="207.1" cy="580.4" r="1.4"/><circle cx="236.7" cy="528.8" r="1.5"/><circle cx="293.1" cy="583.6" r="1.4"/><circle cx="244.6" cy="575.6" r="1.2"/><circle cx="253.1" cy="592.2" r="1.3"/><circle cx="261.8" cy="513.5" r="1.4"/><circle cx="223.8" cy="612.5" r="1.5"/><circle cx="224.0" cy="591.2" r="1.5"/><circle cx="220.7" cy="585.1" r="1.3"/><circle cx="288.9" cy="557.9" r="1.4"/><circle cx="275.4" cy="583.1" r="1.5"/><circle cx="243.8" cy="566.0" r="1.3"/><circle cx="261.4" cy="545.7" r="1.4"/><circle cx="240.3" cy="553.7" r="1.5"/><circle cx="279.9" cy="558.5" r="1.3"/><circle cx="259.2" cy="577.5" r="1.5"/><circle cx="267.9" cy="589.2" r="1.3"/><circle cx="260.8" cy="580.5" r="1.4"/><circle cx="256.2" cy="541.5" r="1.2"/><circle cx="207.2" cy="589.5" r="1.2"/><circle cx="232.9" cy="522.4" r="1.3"/><circle cx="248.6" cy="537.0" r="1.5"/><circle cx="234.4" cy="553.5" r="1.3"/><circle cx="280.1" cy="548.4" r="1.5"/><circle cx="241.1" cy="606.9" r="1.3"/><circle cx="223.7" cy="561.0" r="1.3"/><circle cx="239.9" cy="534.8" r="1.4"/><circle cx="246.7" cy="588.1" r="1.3"/><circle cx="253.4" cy="563.3" r="1.3"/><circle cx="217.0" cy="541.5" r="1.2"/><circle cx="220.5" cy="535.4" r="1.5"/><circle cx="228.6" cy="613.5" r="1.3"/><circle cx="206.6" cy="576.0" r="1.5"/><circle cx="237.5" cy="604.0" r="1.5"/><circle cx="246.8" cy="539.8" r="1.4"/><circle cx="222.1" cy="576.1" r="1.2"/><circle cx="220.6" cy="563.3" r="1.3"/><circle cx="254.5" cy="515.3" r="1.5"/><circle cx="277.9" cy="528.4" r="1.2"/><circle cx="283.7" cy="601.1" r="1.2"/><circle cx="263.4" cy="510.6" r="1.3"/><circle cx="262.9" cy="606.9" r="1.3"/><circle cx="275.2" cy="565.2" r="1.4"/><circle cx="253.1" cy="605.5" r="1.3"/><circle cx="255.6" cy="566.6" r="1.3"/><circle cx="250.1" cy="565.4" r="1.2"/><circle cx="234.1" cy="612.4" r="1.5"/><circle cx="275.9" cy="568.9" r="1.4"/><circle cx="215.0" cy="576.8" r="1.3"/><circle cx="210.6" cy="564.8" r="1.3"/><circle cx="290.4" cy="547.3" r="1.5"/><circle cx="269.4" cy="574.3" r="1.2"/><circle cx="247.5" cy="598.2" r="1.2"/><circle cx="219.8" cy="556.5" r="1.4"/><circle cx="251.9" cy="573.0" r="1.5"/><circle cx="245.7" cy="592.7" r="1.4"/><circle cx="255.6" cy="545.2" r="1.3"/><circle cx="294.9" cy="564.5" r="1.4"/><circle cx="217.0" cy="600.7" r="1.4"/><circle cx="212.2" cy="531.9" r="1.4"/><circle cx="282.0" cy="584.4" r="1.2"/><circle cx="265.9" cy="545.7" r="1.3"/><circle cx="283.1" cy="593.1" r="1.4"/><circle cx="244.2" cy="534.3" r="1.5"/><circle cx="252.3" cy="554.6" r="1.3"/><circle cx="201.2" cy="564.8" r="1.3"/><circle cx="250.7" cy="589.8" r="1.5"/><circle cx="248.2" cy="620.0" r="1.4"/><circle cx="255.6" cy="552.7" r="1.2"/><circle cx="228.4" cy="597.5" r="1.3"/><circle cx="251.4" cy="609.7" r="1.5"/><circle cx="198.2" cy="564.5" r="1.4"/><circle cx="270.3" cy="585.8" r="1.2"/><circle cx="230.1" cy="543.0" r="1.2"/><circle cx="203.8" cy="591.9" r="1.3"/><circle cx="248.3" cy="593.9" r="1.3"/><circle cx="285.7" cy="538.2" r="1.5"/><circle cx="270.5" cy="560.5" r="1.2"/><circle cx="272.0" cy="526.0" r="1.4"/><circle cx="240.2" cy="528.6" r="1.5"/><circle cx="244.3" cy="557.6" r="1.2"/><circle cx="292.4" cy="572.9" r="1.2"/><circle cx="241.2" cy="531.7" r="1.5"/><circle cx="203.2" cy="547.8" r="1.5"/><circle cx="286.6" cy="569.0" r="1.4"/><circle cx="282.4" cy="545.4" r="1.3"/><circle cx="261.2" cy="610.7" r="1.5"/><circle cx="267.1" cy="521.6" r="1.5"/><circle cx="287.8" cy="580.1" r="1.2"/><circle cx="282.4" cy="534.9" r="1.5"/><circle cx="232.5" cy="558.1" r="1.5"/><circle cx="268.5" cy="579.9" r="1.3"/><circle cx="204.8" cy="544.9" r="1.5"/><circle cx="233.4" cy="578.3" r="1.2"/><circle cx="225.3" cy="570.7" r="1.3"/><circle cx="218.2" cy="559.3" r="1.4"/><circle cx="236.7" cy="588.4" r="1.4"/><circle cx="221.8" cy="525.6" r="1.3"/><circle cx="264.7" cy="513.9" r="1.2"/><circle cx="225.9" cy="600.4" r="1.2"/><circle cx="272.3" cy="565.4" r="1.3"/><circle cx="248.0" cy="526.5" r="1.2"/><circle cx="277.5" cy="551.1" r="1.3"/><circle cx="288.7" cy="593.8" r="1.3"/><circle cx="199.4" cy="557.3" r="1.3"/><circle cx="207.0" cy="570.0" r="1.3"/><circle cx="238.2" cy="566.5" r="1.5"/><circle cx="266.1" cy="567.3" r="1.2"/><circle cx="254.6" cy="559.8" r="1.3"/><circle cx="277.1" cy="541.6" r="1.2"/><circle cx="259.6" cy="587.9" r="1.4"/><circle cx="213.2" cy="559.6" r="1.3"/><circle cx="279.3" cy="554.8" r="1.3"/><circle cx="224.3" cy="582.6" r="1.5"/><circle cx="240.4" cy="538.3" r="1.4"/><circle cx="244.0" cy="568.9" r="1.5"/><circle cx="286.5" cy="564.4" r="1.4"/><circle cx="258.1" cy="550.1" r="1.5"/><circle cx="200.3" cy="581.9" r="1.2"/><circle cx="271.1" cy="532.5" r="1.3"/><circle cx="279.1" cy="602.9" r="1.5"/><circle cx="289.6" cy="574.5" r="1.2"/><circle cx="290.9" cy="585.3" r="1.2"/><circle cx="212.4" cy="556.0" r="1.2"/><circle cx="267.5" cy="535.2" r="1.3"/><circle cx="288.3" cy="550.9" r="1.2"/><circle cx="278.2" cy="597.5" r="1.2"/><circle cx="246.9" cy="583.7" r="1.4"/><circle cx="253.2" cy="568.5" r="1.2"/><circle cx="219.0" cy="577.7" r="1.3"/><circle cx="214.2" cy="597.9" r="1.5"/><circle cx="266.9" cy="601.7" r="1.3"/><circle cx="207.4" cy="573.0" r="1.3"/><circle cx="288.4" cy="543.3" r="1.5"/><circle cx="223.4" cy="607.0" r="1.3"/><circle cx="258.4" cy="566.2" r="1.3"/><circle cx="224.1" cy="536.7" r="1.3"/><circle cx="237.8" cy="619.2" r="1.4"/><circle cx="272.3" cy="555.5" r="1.4"/><circle cx="237.2" cy="553.2" r="1.4"/><circle cx="263.2" cy="554.9" r="1.4"/><circle cx="260.6" cy="536.8" r="1.4"/><circle cx="265.2" cy="562.0" r="1.3"/><circle cx="287.6" cy="576.5" r="1.3"/><circle cx="261.5" cy="519.1" r="1.3"/><circle cx="234.6" cy="526.2" r="1.3"/><circle cx="265.7" cy="538.5" r="1.2"/><circle cx="258.7" cy="598.8" r="1.2"/><circle cx="276.0" cy="605.6" r="1.3"/><circle cx="260.7" cy="504.3" r="1.3"/><circle cx="255.1" cy="574.0" r="1.2"/><circle cx="259.7" cy="510.6" r="1.2"/><circle cx="269.3" cy="569.5" r="1.4"/><circle cx="291.0" cy="577.6" r="1.5"/><circle cx="206.8" cy="548.2" r="1.3"/><circle cx="252.7" cy="601.4" r="1.3"/><circle cx="248.8" cy="532.9" r="1.4"/><circle cx="238.2" cy="549.9" r="1.4"/><circle cx="220.4" cy="594.2" r="1.3"/><circle cx="255.6" cy="594.9" r="1.3"/><circle cx="210.3" cy="546.3" r="1.2"/><circle cx="220.9" cy="582.4" r="1.3"/><circle cx="237.2" cy="547.1" r="1.3"/><circle cx="255.4" cy="586.6" r="1.4"/><circle cx="227.6" cy="583.8" r="1.2"/><circle cx="243.2" cy="571.8" r="1.4"/><circle cx="219.7" cy="607.8" r="1.3"/><circle cx="247.1" cy="519.8" r="1.4"/><circle cx="267.1" cy="515.5" r="1.3"/><circle cx="229.3" cy="557.6" r="1.4"/><circle cx="277.6" cy="575.7" r="1.5"/><circle cx="261.3" cy="604.2" r="1.4"/><circle cx="252.3" cy="581.6" r="1.4"/><circle cx="269.8" cy="611.0" r="1.2"/><circle cx="261.9" cy="516.2" r="1.3"/><circle cx="204.6" cy="564.4" r="1.3"/><circle cx="225.5" cy="604.7" r="1.3"/><circle cx="265.9" cy="525.2" r="1.5"/><circle cx="265.5" cy="532.0" r="1.3"/><circle cx="223.7" cy="567.3" r="1.4"/><circle cx="236.7" cy="532.4" r="1.4"/><circle cx="257.7" cy="562.0" r="1.2"/><circle cx="278.9" cy="570.2" r="1.2"/><circle cx="204.1" cy="553.8" r="1.2"/><circle cx="272.8" cy="562.6" r="1.4"/><circle cx="256.6" cy="591.4" r="1.3"/><circle cx="290.7" cy="556.0" r="1.2"/><circle cx="228.4" cy="586.3" r="1.3"/><circle cx="229.2" cy="600.7" r="1.5"/><circle cx="241.3" cy="556.4" r="1.3"/><circle cx="292.6" cy="568.3" r="1.2"/><circle cx="264.4" cy="615.8" r="1.3"/><circle cx="235.5" cy="537.6" r="1.5"/><circle cx="246.6" cy="603.4" r="1.2"/><circle cx="281.7" cy="590.3" r="1.4"/><circle cx="228.5" cy="610.5" r="1.5"/><circle cx="212.5" cy="570.2" r="1.3"/><circle cx="209.3" cy="538.1" r="1.5"/><circle cx="254.7" cy="535.1" r="1.3"/><circle cx="241.7" cy="580.0" r="1.3"/><circle cx="256.7" cy="527.4" r="1.2"/><circle cx="262.2" cy="613.3" r="1.2"/><circle cx="202.1" cy="556.4" r="1.3"/><circle cx="199.6" cy="561.0" r="1.4"/><circle cx="230.3" cy="590.4" r="1.4"/><circle cx="272.0" cy="568.4" r="1.4"/><circle cx="249.2" cy="575.1" r="1.2"/><circle cx="227.3" cy="552.7" r="1.2"/><circle cx="260.0" cy="607.2" r="1.3"/><circle cx="274.4" cy="544.4" r="1.2"/><circle cx="241.4" cy="561.0" r="1.3"/><circle cx="217.4" cy="565.6" r="1.2"/><circle cx="231.5" cy="576.6" r="1.2"/><circle cx="248.2" cy="609.6" r="1.4"/><circle cx="256.2" cy="523.3" r="1.5"/><circle cx="217.0" cy="546.8" r="1.5"/><circle cx="268.0" cy="604.3" r="1.3"/><circle cx="230.8" cy="606.6" r="1.4"/><circle cx="227.2" cy="536.9" r="1.3"/><circle cx="236.9" cy="585.5" r="1.2"/><circle cx="285.4" cy="574.8" r="1.3"/><circle cx="230.3" cy="579.3" r="1.5"/><circle cx="242.3" cy="520.7" r="1.2"/><circle cx="283.5" cy="557.3" r="1.2"/><circle cx="209.8" cy="558.4" r="1.2"/><circle cx="217.2" cy="583.3" r="1.4"/><circle cx="251.2" cy="577.4" r="1.3"/></g></g>
<path d="M218.0 540.3C220.9 538.0 225.3 534.9 229.6 533.3C233.9 531.8 238.9 531.2 243.6 531.0C248.3 530.8 253.3 531.4 257.6 532.1C261.9 532.9 265.9 533.9 269.2 535.6C272.5 537.4 275.3 539.5 277.4 542.6C279.5 545.7 280.9 550.0 282.1 554.3C283.2 558.6 284.2 563.6 284.4 568.3C284.6 572.9 284.2 578.0 283.2 582.2C282.2 586.5 280.7 590.4 278.6 593.9C276.4 597.4 273.9 600.7 270.4 603.2C266.9 605.7 262.1 607.9 257.6 609.0C253.1 610.2 248.3 610.6 243.6 610.2C238.9 609.8 233.9 608.7 229.6 606.7C225.3 604.8 221.3 601.9 218.0 598.6C214.7 595.3 211.8 591.2 209.8 586.9C207.9 582.6 206.7 577.6 206.3 572.9C205.9 568.3 206.5 563.2 207.5 558.9C208.4 554.7 210.4 550.4 212.1 547.3C213.9 544.2 215.1 542.6 218.0 540.3Z" fill="#5f4035" filter="url(#b1)"/>
<path d="M233.6 556.3L225.7 537.5L219.1 542.0Z" fill="#3a3028" filter="url(#b1)"/>
<path d="M249.8 551.1L257.2 532.1L249.3 530.7Z" fill="#3a3028" filter="url(#b1)"/>
<path d="M263.4 562.0L282.2 554.1L277.8 547.5Z" fill="#3a3028" filter="url(#b1)"/>
<path d="M266.7 579.0L285.2 587.4L287.0 579.7Z" fill="#3a3028" filter="url(#b1)"/>
<path d="M258.6 591.9L267.1 610.5L273.6 605.8Z" fill="#3a3028" filter="url(#b1)"/>
<path d="M239.1 597.1L229.8 615.2L237.5 617.4Z" fill="#3a3028" filter="url(#b1)"/>
<path d="M224.0 589.0L205.3 597.1L209.8 603.7Z" fill="#3a3028" filter="url(#b1)"/>
<path d="M224.6 567.6L206.6 557.9L204.3 565.6Z" fill="#3a3028" filter="url(#b1)"/>
<path d="M231.4 553.0L230.1 549.4L230.0 547.2L230.3 545.4L230.7 543.7L231.4 542.3L232.2 541.0L233.1 539.9L234.1 538.9L235.2 538.1L236.4 537.5L237.6 537.0L238.6 536.8L239.9 536.6L241.2 536.6L242.6 536.9L243.9 537.3L245.2 537.9L246.4 538.8L247.6 539.8L248.7 541.1L249.6 542.8L250.4 545.0L250.5 547.2L252.2 543.6L253.7 542.0L255.3 540.9L256.8 540.1L258.3 539.7L259.7 539.5L261.1 539.5L262.4 539.8L263.5 540.3L264.6 541.0L265.7 541.8L266.7 542.7L267.5 543.7L268.3 544.8L269.0 546.0L269.5 547.3L269.9 548.7L270.2 550.2L270.3 551.7L270.1 553.3L269.8 555.1L269.0 556.9L267.2 559.4L266.8 559.7L269.8 558.9L271.6 559.0L273.1 559.3L274.5 559.9L275.7 560.6L276.7 561.4L277.6 562.3L278.4 563.3L279.0 564.4L279.4 565.5L279.5 566.0L279.7 567.2L279.8 568.4L279.8 569.6L279.7 570.8L279.4 572.1L279.0 573.2L278.5 574.4L277.9 575.5L277.1 576.6L276.2 577.6L275.1 578.5L273.7 579.3L271.8 579.9L270.6 579.9L273.6 581.6L275.0 583.1L275.8 584.6L276.3 585.9L276.5 587.3L276.5 588.5L276.1 589.7L275.9 590.1L275.3 591.1L274.6 592.1L273.8 593.0L272.9 593.8L272.0 594.5L270.9 595.2L269.8 595.7L268.7 596.2L267.4 596.5L266.1 596.7L264.7 596.7L263.3 596.5L261.4 595.6L261.0 595.2L261.9 598.2L261.8 600.0L261.5 601.6L261.0 603.1L260.4 604.3L259.6 605.5L258.7 606.5L257.7 607.4L256.7 608.2L255.6 608.8L254.4 609.3L253.2 609.7L252.8 609.7L251.6 609.9L250.3 610.0L249.0 610.0L247.8 609.8L246.5 609.6L245.3 609.2L244.1 608.7L242.9 608.1L241.8 607.4L240.7 606.5L239.7 605.5L238.9 604.3L238.2 602.7L238.0 601.0L235.7 604.9L233.9 606.6L232.1 607.8L230.4 608.5L228.8 608.8L227.2 608.9L225.8 608.6L224.5 608.0L224.3 607.9L223.1 607.1L222.1 606.2L221.1 605.1L220.3 603.9L219.6 602.7L219.1 601.3L218.7 599.8L218.5 598.3L218.4 596.6L218.7 594.9L219.4 592.9L220.7 591.3L218.9 591.2L217.7 590.6L216.6 589.9L215.7 589.1L214.8 588.2L214.0 587.3L213.2 586.3L212.5 585.2L211.9 584.1L211.4 583.0L211.0 581.8L210.6 580.6L210.3 579.4L210.1 578.2L210.1 577.7L210.0 576.4L210.1 575.2L210.4 573.9L210.8 572.7L211.4 571.5L212.1 570.4L213.0 569.3L214.1 568.4L215.3 567.5L216.9 566.8L219.0 566.3L220.7 566.4L217.4 564.3L215.9 562.6L214.9 561.0L214.3 559.4L213.9 557.9L213.8 556.4L213.8 554.9L214.1 553.6L214.6 552.3L215.3 551.2L215.5 550.9L216.4 549.9L217.5 549.2L218.8 548.6L220.3 548.2L221.9 548.1L223.7 548.3L225.6 548.8L227.7 549.8L230.5 551.9Z" fill="#3a332a" stroke="#3a332a" stroke-width="4" stroke-linejoin="round" filter="url(#b1)"/>
<path d="M231.4 553.0L230.1 549.4L230.0 547.2L230.3 545.4L230.7 543.7L231.4 542.3L232.2 541.0L233.1 539.9L234.1 538.9L235.2 538.1L236.4 537.5L237.6 537.0L238.6 536.8L239.9 536.6L241.2 536.6L242.6 536.9L243.9 537.3L245.2 537.9L246.4 538.8L247.6 539.8L248.7 541.1L249.6 542.8L250.4 545.0L250.5 547.2L252.2 543.6L253.7 542.0L255.3 540.9L256.8 540.1L258.3 539.7L259.7 539.5L261.1 539.5L262.4 539.8L263.5 540.3L264.6 541.0L265.7 541.8L266.7 542.7L267.5 543.7L268.3 544.8L269.0 546.0L269.5 547.3L269.9 548.7L270.2 550.2L270.3 551.7L270.1 553.3L269.8 555.1L269.0 556.9L267.2 559.4L266.8 559.7L269.8 558.9L271.6 559.0L273.1 559.3L274.5 559.9L275.7 560.6L276.7 561.4L277.6 562.3L278.4 563.3L279.0 564.4L279.4 565.5L279.5 566.0L279.7 567.2L279.8 568.4L279.8 569.6L279.7 570.8L279.4 572.1L279.0 573.2L278.5 574.4L277.9 575.5L277.1 576.6L276.2 577.6L275.1 578.5L273.7 579.3L271.8 579.9L270.6 579.9L273.6 581.6L275.0 583.1L275.8 584.6L276.3 585.9L276.5 587.3L276.5 588.5L276.1 589.7L275.9 590.1L275.3 591.1L274.6 592.1L273.8 593.0L272.9 593.8L272.0 594.5L270.9 595.2L269.8 595.7L268.7 596.2L267.4 596.5L266.1 596.7L264.7 596.7L263.3 596.5L261.4 595.6L261.0 595.2L261.9 598.2L261.8 600.0L261.5 601.6L261.0 603.1L260.4 604.3L259.6 605.5L258.7 606.5L257.7 607.4L256.7 608.2L255.6 608.8L254.4 609.3L253.2 609.7L252.8 609.7L251.6 609.9L250.3 610.0L249.0 610.0L247.8 609.8L246.5 609.6L245.3 609.2L244.1 608.7L242.9 608.1L241.8 607.4L240.7 606.5L239.7 605.5L238.9 604.3L238.2 602.7L238.0 601.0L235.7 604.9L233.9 606.6L232.1 607.8L230.4 608.5L228.8 608.8L227.2 608.9L225.8 608.6L224.5 608.0L224.3 607.9L223.1 607.1L222.1 606.2L221.1 605.1L220.3 603.9L219.6 602.7L219.1 601.3L218.7 599.8L218.5 598.3L218.4 596.6L218.7 594.9L219.4 592.9L220.7 591.3L218.9 591.2L217.7 590.6L216.6 589.9L215.7 589.1L214.8 588.2L214.0 587.3L213.2 586.3L212.5 585.2L211.9 584.1L211.4 583.0L211.0 581.8L210.6 580.6L210.3 579.4L210.1 578.2L210.1 577.7L210.0 576.4L210.1 575.2L210.4 573.9L210.8 572.7L211.4 571.5L212.1 570.4L213.0 569.3L214.1 568.4L215.3 567.5L216.9 566.8L219.0 566.3L220.7 566.4L217.4 564.3L215.9 562.6L214.9 561.0L214.3 559.4L213.9 557.9L213.8 556.4L213.8 554.9L214.1 553.6L214.6 552.3L215.3 551.2L215.5 550.9L216.4 549.9L217.5 549.2L218.8 548.6L220.3 548.2L221.9 548.1L223.7 548.3L225.6 548.8L227.7 549.8L230.5 551.9Z" fill="#c9d0c2" filter="url(#b4)"/>
<clipPath id="p2"><path d="M231.4 553.0L230.1 549.4L230.0 547.2L230.3 545.4L230.7 543.7L231.4 542.3L232.2 541.0L233.1 539.9L234.1 538.9L235.2 538.1L236.4 537.5L237.6 537.0L238.6 536.8L239.9 536.6L241.2 536.6L242.6 536.9L243.9 537.3L245.2 537.9L246.4 538.8L247.6 539.8L248.7 541.1L249.6 542.8L250.4 545.0L250.5 547.2L252.2 543.6L253.7 542.0L255.3 540.9L256.8 540.1L258.3 539.7L259.7 539.5L261.1 539.5L262.4 539.8L263.5 540.3L264.6 541.0L265.7 541.8L266.7 542.7L267.5 543.7L268.3 544.8L269.0 546.0L269.5 547.3L269.9 548.7L270.2 550.2L270.3 551.7L270.1 553.3L269.8 555.1L269.0 556.9L267.2 559.4L266.8 559.7L269.8 558.9L271.6 559.0L273.1 559.3L274.5 559.9L275.7 560.6L276.7 561.4L277.6 562.3L278.4 563.3L279.0 564.4L279.4 565.5L279.5 566.0L279.7 567.2L279.8 568.4L279.8 569.6L279.7 570.8L279.4 572.1L279.0 573.2L278.5 574.4L277.9 575.5L277.1 576.6L276.2 577.6L275.1 578.5L273.7 579.3L271.8 579.9L270.6 579.9L273.6 581.6L275.0 583.1L275.8 584.6L276.3 585.9L276.5 587.3L276.5 588.5L276.1 589.7L275.9 590.1L275.3 591.1L274.6 592.1L273.8 593.0L272.9 593.8L272.0 594.5L270.9 595.2L269.8 595.7L268.7 596.2L267.4 596.5L266.1 596.7L264.7 596.7L263.3 596.5L261.4 595.6L261.0 595.2L261.9 598.2L261.8 600.0L261.5 601.6L261.0 603.1L260.4 604.3L259.6 605.5L258.7 606.5L257.7 607.4L256.7 608.2L255.6 608.8L254.4 609.3L253.2 609.7L252.8 609.7L251.6 609.9L250.3 610.0L249.0 610.0L247.8 609.8L246.5 609.6L245.3 609.2L244.1 608.7L242.9 608.1L241.8 607.4L240.7 606.5L239.7 605.5L238.9 604.3L238.2 602.7L238.0 601.0L235.7 604.9L233.9 606.6L232.1 607.8L230.4 608.5L228.8 608.8L227.2 608.9L225.8 608.6L224.5 608.0L224.3 607.9L223.1 607.1L222.1 606.2L221.1 605.1L220.3 603.9L219.6 602.7L219.1 601.3L218.7 599.8L218.5 598.3L218.4 596.6L218.7 594.9L219.4 592.9L220.7 591.3L218.9 591.2L217.7 590.6L216.6 589.9L215.7 589.1L214.8 588.2L214.0 587.3L213.2 586.3L212.5 585.2L211.9 584.1L211.4 583.0L211.0 581.8L210.6 580.6L210.3 579.4L210.1 578.2L210.1 577.7L210.0 576.4L210.1 575.2L210.4 573.9L210.8 572.7L211.4 571.5L212.1 570.4L213.0 569.3L214.1 568.4L215.3 567.5L216.9 566.8L219.0 566.3L220.7 566.4L217.4 564.3L215.9 562.6L214.9 561.0L214.3 559.4L213.9 557.9L213.8 556.4L213.8 554.9L214.1 553.6L214.6 552.3L215.3 551.2L215.5 550.9L216.4 549.9L217.5 549.2L218.8 548.6L220.3 548.2L221.9 548.1L223.7 548.3L225.6 548.8L227.7 549.8L230.5 551.9Z"/></clipPath>
<g clip-path="url(#p2)"><g fill="#f6faf2" stroke="#9ea596" stroke-width="0.45"><circle cx="245.7" cy="574.0" r="3.8"/><circle cx="251.2" cy="579.0" r="3.0"/><circle cx="245.2" cy="581.5" r="3.0"/><circle cx="240.0" cy="578.0" r="3.2"/><circle cx="238.5" cy="571.9" r="3.0"/><circle cx="242.9" cy="567.2" r="3.4"/><circle cx="249.5" cy="567.2" r="3.1"/><circle cx="251.7" cy="573.0" r="2.9"/><circle cx="249.4" cy="585.4" r="2.9"/><circle cx="243.9" cy="587.2" r="2.6"/><circle cx="238.0" cy="585.7" r="2.8"/><circle cx="233.8" cy="581.1" r="2.6"/><circle cx="232.4" cy="575.2" r="3.0"/><circle cx="233.1" cy="569.3" r="2.7"/><circle cx="236.1" cy="563.9" r="2.7"/><circle cx="241.7" cy="561.8" r="2.8"/><circle cx="247.4" cy="561.5" r="2.9"/><circle cx="252.8" cy="563.2" r="2.6"/><circle cx="256.6" cy="567.5" r="2.9"/><circle cx="259.5" cy="572.7" r="2.6"/><circle cx="258.4" cy="578.7" r="2.9"/><circle cx="254.0" cy="582.7" r="2.8"/><circle cx="260.9" cy="563.6" r="2.6"/><circle cx="263.4" cy="568.2" r="2.3"/><circle cx="264.6" cy="573.4" r="2.4"/><circle cx="262.6" cy="578.4" r="2.4"/><circle cx="260.6" cy="582.9" r="2.6"/><circle cx="257.4" cy="586.8" r="2.6"/><circle cx="253.5" cy="589.8" r="2.3"/><circle cx="248.9" cy="592.3" r="2.5"/><circle cx="243.6" cy="592.2" r="2.4"/><circle cx="238.7" cy="590.6" r="2.4"/><circle cx="233.7" cy="588.7" r="2.5"/><circle cx="230.1" cy="584.7" r="2.5"/><circle cx="228.7" cy="579.6" r="2.3"/><circle cx="227.5" cy="574.5" r="2.5"/><circle cx="228.9" cy="569.6" r="2.4"/><circle cx="229.8" cy="564.4" r="2.4"/><circle cx="232.8" cy="560.0" r="2.5"/><circle cx="237.4" cy="557.2" r="2.3"/><circle cx="242.5" cy="555.4" r="2.4"/><circle cx="247.7" cy="556.6" r="2.4"/><circle cx="252.6" cy="557.7" r="2.4"/><circle cx="257.7" cy="559.3" r="2.4"/><circle cx="252.2" cy="596.3" r="2.1"/><circle cx="247.7" cy="596.9" r="2.3"/><circle cx="243.3" cy="596.3" r="2.1"/><circle cx="239.0" cy="595.2" r="2.2"/><circle cx="235.1" cy="593.4" r="2.3"/><circle cx="231.5" cy="590.9" r="2.3"/><circle cx="227.6" cy="588.6" r="2.3"/><circle cx="224.8" cy="584.9" r="2.1"/><circle cx="223.5" cy="580.5" r="2.2"/><circle cx="223.8" cy="575.9" r="2.2"/><circle cx="222.7" cy="571.5" r="2.1"/><circle cx="224.3" cy="567.3" r="2.0"/><circle cx="226.4" cy="563.4" r="2.1"/><circle cx="228.8" cy="559.8" r="2.0"/><circle cx="231.6" cy="556.5" r="2.2"/><circle cx="235.0" cy="553.5" r="2.0"/><circle cx="239.1" cy="551.4" r="2.3"/><circle cx="243.7" cy="551.3" r="2.0"/><circle cx="248.2" cy="551.2" r="2.0"/><circle cx="252.4" cy="552.8" r="2.2"/><circle cx="256.5" cy="554.2" r="2.3"/><circle cx="260.5" cy="556.4" r="2.2"/><circle cx="263.9" cy="559.4" r="2.2"/><circle cx="265.8" cy="563.5" r="2.2"/><circle cx="267.0" cy="567.8" r="2.1"/><circle cx="267.8" cy="572.1" r="2.3"/><circle cx="268.6" cy="576.5" r="2.1"/><circle cx="268.1" cy="581.0" r="2.0"/><circle cx="265.3" cy="584.7" r="2.1"/><circle cx="263.5" cy="589.0" r="2.2"/><circle cx="260.5" cy="592.4" r="2.3"/><circle cx="256.5" cy="594.6" r="2.3"/><circle cx="244.9" cy="547.1" r="2.1"/><circle cx="249.0" cy="546.9" r="1.9"/><circle cx="252.9" cy="547.9" r="1.9"/><circle cx="256.6" cy="549.6" r="2.0"/><circle cx="260.4" cy="550.9" r="2.0"/><circle cx="263.0" cy="554.2" r="1.9"/><circle cx="266.1" cy="556.7" r="2.1"/><circle cx="268.3" cy="560.0" r="1.9"/><circle cx="269.9" cy="563.7" r="1.8"/><circle cx="271.5" cy="567.3" r="1.9"/><circle cx="272.5" cy="571.2" r="1.8"/><circle cx="273.2" cy="575.2" r="2.0"/><circle cx="271.6" cy="579.1" r="1.9"/><circle cx="271.3" cy="583.2" r="1.8"/><circle cx="269.0" cy="586.6" r="1.8"/><circle cx="267.3" cy="590.2" r="2.0"/><circle cx="264.9" cy="593.5" r="1.9"/><circle cx="261.1" cy="595.2" r="1.8"/><circle cx="258.0" cy="597.7" r="1.8"/><circle cx="254.3" cy="599.2" r="2.0"/><circle cx="250.5" cy="600.4" r="1.9"/><circle cx="246.5" cy="600.8" r="2.0"/><circle cx="242.4" cy="601.4" r="2.0"/><circle cx="238.7" cy="599.4" r="2.0"/><circle cx="234.5" cy="599.1" r="1.9"/><circle cx="231.5" cy="596.3" r="2.0"/><circle cx="227.7" cy="594.6" r="2.1"/><circle cx="224.8" cy="591.7" r="1.9"/><circle cx="223.2" cy="587.9" r="2.1"/><circle cx="220.5" cy="584.8" r="2.0"/><circle cx="220.3" cy="580.6" r="1.8"/><circle cx="218.8" cy="576.8" r="2.1"/><circle cx="218.5" cy="572.8" r="2.0"/><circle cx="219.2" cy="568.8" r="1.9"/><circle cx="219.9" cy="564.8" r="1.9"/><circle cx="221.5" cy="561.0" r="1.9"/><circle cx="224.2" cy="557.9" r="2.1"/><circle cx="226.7" cy="554.7" r="1.9"/><circle cx="230.3" cy="552.8" r="1.9"/><circle cx="233.5" cy="550.5" r="1.9"/><circle cx="237.2" cy="549.2" r="1.9"/><circle cx="240.9" cy="547.7" r="2.0"/><circle cx="232.4" cy="601.8" r="1.8"/><circle cx="229.3" cy="599.9" r="1.8"/><circle cx="226.1" cy="598.1" r="1.6"/><circle cx="224.0" cy="595.0" r="1.6"/><circle cx="221.3" cy="592.6" r="1.6"/><circle cx="219.6" cy="589.4" r="1.8"/><circle cx="217.9" cy="586.2" r="1.7"/><circle cx="216.8" cy="582.8" r="1.8"/><circle cx="215.6" cy="579.4" r="1.7"/><circle cx="214.8" cy="575.8" r="1.6"/><circle cx="215.8" cy="572.2" r="1.8"/><circle cx="215.3" cy="568.5" r="1.8"/><circle cx="217.8" cy="561.6" r="1.6"/><circle cx="219.8" cy="558.6" r="1.8"/><circle cx="221.8" cy="555.7" r="1.8"/><circle cx="223.9" cy="552.8" r="1.9"/><circle cx="226.3" cy="550.0" r="1.7"/><circle cx="232.6" cy="546.4" r="1.8"/><circle cx="236.2" cy="545.6" r="1.7"/><circle cx="239.5" cy="544.6" r="1.7"/><circle cx="243.0" cy="543.3" r="1.9"/><circle cx="246.6" cy="544.0" r="1.7"/><circle cx="253.9" cy="544.0" r="1.8"/><circle cx="257.4" cy="545.4" r="1.6"/><circle cx="260.6" cy="547.0" r="1.8"/><circle cx="263.2" cy="549.7" r="1.7"/><circle cx="266.3" cy="551.5" r="1.6"/><circle cx="268.5" cy="554.4" r="1.7"/><circle cx="272.7" cy="560.2" r="1.7"/><circle cx="274.1" cy="563.5" r="1.7"/><circle cx="275.9" cy="566.8" r="1.7"/><circle cx="275.9" cy="570.5" r="1.8"/><circle cx="276.7" cy="574.0" r="1.6"/><circle cx="274.8" cy="584.9" r="1.6"/><circle cx="273.3" cy="588.2" r="1.7"/><circle cx="270.8" cy="591.0" r="1.7"/><circle cx="269.1" cy="594.2" r="1.8"/><circle cx="266.0" cy="596.2" r="1.7"/><circle cx="260.6" cy="601.1" r="1.8"/><circle cx="257.2" cy="602.5" r="1.7"/><circle cx="253.8" cy="603.9" r="1.8"/><circle cx="250.2" cy="604.3" r="1.7"/><circle cx="246.6" cy="604.6" r="1.7"/><circle cx="243.0" cy="604.3" r="1.9"/><circle cx="239.4" cy="603.8" r="1.6"/><circle cx="235.9" cy="602.8" r="1.7"/><circle cx="237.1" cy="541.7" r="1.6"/><circle cx="240.1" cy="540.7" r="1.5"/><circle cx="243.3" cy="540.2" r="1.7"/><circle cx="246.5" cy="540.1" r="1.5"/><circle cx="256.1" cy="541.7" r="1.7"/><circle cx="258.8" cy="543.4" r="1.5"/><circle cx="261.7" cy="544.8" r="1.6"/><circle cx="264.9" cy="545.7" r="1.5"/><circle cx="267.5" cy="547.7" r="1.5"/><circle cx="269.6" cy="550.1" r="1.6"/><circle cx="278.4" cy="563.6" r="1.6"/><circle cx="278.8" cy="566.8" r="1.6"/><circle cx="279.0" cy="570.1" r="1.5"/><circle cx="274.5" cy="591.6" r="1.5"/><circle cx="260.3" cy="604.1" r="1.5"/><circle cx="257.6" cy="606.1" r="1.5"/><circle cx="254.5" cy="607.0" r="1.5"/><circle cx="251.2" cy="607.1" r="1.5"/><circle cx="248.1" cy="607.7" r="1.5"/><circle cx="244.9" cy="607.9" r="1.6"/><circle cx="232.5" cy="604.7" r="1.6"/><circle cx="229.3" cy="604.0" r="1.5"/><circle cx="227.0" cy="601.5" r="1.4"/><circle cx="224.4" cy="599.8" r="1.5"/><circle cx="221.8" cy="597.9" r="1.5"/><circle cx="219.2" cy="595.8" r="1.6"/><circle cx="214.9" cy="587.1" r="1.6"/><circle cx="214.1" cy="584.1" r="1.6"/><circle cx="212.9" cy="581.1" r="1.6"/><circle cx="212.1" cy="578.0" r="1.6"/><circle cx="212.3" cy="574.8" r="1.7"/><circle cx="211.5" cy="571.5" r="1.5"/><circle cx="215.4" cy="559.3" r="1.6"/><circle cx="216.6" cy="556.2" r="1.6"/><circle cx="218.2" cy="553.4" r="1.4"/><circle cx="220.9" cy="551.4" r="1.6"/><circle cx="222.7" cy="548.6" r="1.5"/><circle cx="231.0" cy="543.6" r="1.6"/><circle cx="233.8" cy="542.1" r="1.6"/><circle cx="265.7" cy="543.8" r="1.5"/><circle cx="268.0" cy="545.5" r="1.4"/><circle cx="232.1" cy="607.7" r="1.5"/><circle cx="229.3" cy="606.7" r="1.5"/><circle cx="226.8" cy="605.3" r="1.4"/><circle cx="224.3" cy="603.7" r="1.5"/><circle cx="221.8" cy="602.2" r="1.4"/><circle cx="220.2" cy="599.7" r="1.3"/><circle cx="214.6" cy="554.4" r="1.4"/><circle cx="216.3" cy="552.0" r="1.5"/><circle cx="218.2" cy="549.7" r="1.4"/><circle cx="235.2" cy="539.0" r="1.4"/><circle cx="237.9" cy="537.9" r="1.5"/><circle cx="240.9" cy="538.0" r="1.3"/><circle cx="260.9" cy="540.3" r="1.3"/><circle cx="263.5" cy="541.7" r="1.4"/><circle cx="226.3" cy="608.1" r="1.2"/><circle cx="224.1" cy="606.7" r="1.2"/><circle cx="221.6" cy="605.6" r="1.3"/></g></g>
</g></g>
<g clip-path="url(#c3)"><g filter="url(#soft)">
<rect x="320" y="507.7" width="147.6" height="131" fill="#effbfa"/>
<path d="M430 643Q448 627 472 624.5" stroke="#4b5858" stroke-width="4.2" fill="none" filter="url(#b4)"/>
<path d="M336 641Q345 625 352 615" stroke="#d5dcdc" stroke-width="6" fill="none" filter="url(#b3)"/>
<path d="M342.5 641.0C321.9 655.1 346.3 635.0 348.3 631.6C350.3 628.2 352.6 624.7 354.4 620.9C356.2 617.1 357.9 612.8 359.0 608.7C360.1 604.6 360.6 600.8 361.3 596.5C362.0 592.2 362.7 587.0 363.3 582.7C363.9 578.4 364.1 575.0 365.0 570.5C365.9 566.0 367.1 560.0 369.0 556.0C370.9 552.0 373.5 549.2 376.3 546.8C379.1 544.4 382.4 543.1 385.6 541.6C388.8 540.1 392.0 538.8 395.3 537.9C398.6 537.0 402.1 536.6 405.5 536.3C408.9 536.0 412.3 535.8 415.7 535.9C419.1 536.0 422.4 536.1 425.8 536.7C429.2 537.3 432.6 538.4 436.0 539.3C439.4 540.2 442.8 541.2 446.2 542.0C449.6 542.8 453.2 543.4 456.3 544.0C459.4 544.6 461.9 544.9 464.5 545.4C467.1 545.9 492.3 530.9 472.0 546.8" stroke="#4b5858" stroke-width="5.6" fill="none" filter="url(#b4)"/>
<path d="M342.5 641.0C321.9 655.1 346.3 635.0 348.3 631.6C350.3 628.2 352.6 624.7 354.4 620.9C356.2 617.1 357.9 612.8 359.0 608.7C360.1 604.6 360.6 600.8 361.3 596.5C362.0 592.2 362.7 587.0 363.3 582.7C363.9 578.4 364.1 575.0 365.0 570.5C365.9 566.0 367.1 560.0 369.0 556.0C370.9 552.0 373.5 549.2 376.3 546.8C379.1 544.4 382.4 543.1 385.6 541.6C388.8 540.1 392.0 538.8 395.3 537.9C398.6 537.0 402.1 536.6 405.5 536.3C408.9 536.0 412.3 535.8 415.7 535.9C419.1 536.0 422.4 536.1 425.8 536.7C429.2 537.3 432.6 538.4 436.0 539.3C439.4 540.2 442.8 541.2 446.2 542.0C449.6 542.8 453.2 543.4 456.3 544.0C459.4 544.6 461.9 544.9 464.5 545.4C467.1 545.9 492.3 530.9 472.0 546.8" stroke="#687676" stroke-width="1.4" fill="none" filter="url(#b4)"/>
<path d="M337.5 576.2Q340 577.8 345 577.3L364.5 576.6" stroke="#56615f" stroke-width="3" stroke-linecap="round" fill="none" filter="url(#b4)"/>
<path d="M339 576.6Q341 577.4 345 577L363 576.4" stroke="#d3dad8" stroke-width="1" fill="none" filter="url(#b4)"/>
<circle cx="368.9" cy="610.2" r="1.3" fill="#5d665e" filter="url(#b4)"/>
<ellipse cx="401.3" cy="578.6" rx="34.5" ry="37.2" fill="#4d5b5a" filter="url(#b4)"/>
<ellipse cx="401.3" cy="579.1" rx="32.9" ry="35.6" fill="#7f8b88" filter="url(#b4)"/>
<ellipse cx="401.3" cy="580.8000000000001" rx="29.9" ry="33.0" fill="#96a19d" filter="url(#b1)"/>
<ellipse cx="401.0" cy="579.2" rx="25.8" ry="29.8" fill="#523941" filter="url(#b2)"/>
<ellipse cx="472.5" cy="583.5" rx="34.5" ry="36.5" fill="#4d5b5a" filter="url(#b4)"/>
<ellipse cx="472.5" cy="584.0" rx="32.9" ry="34.9" fill="#7f8b88" filter="url(#b4)"/>
<ellipse cx="472.5" cy="585.7" rx="29.9" ry="32.3" fill="#96a19d" filter="url(#b1)"/>
<ellipse cx="472.2" cy="584.1" rx="28" ry="31" fill="#523941" filter="url(#b2)"/>
<path d="M390.7 565.5L390.7 564.2L391.0 563.2L391.4 562.3L391.8 561.5L392.3 560.8L392.8 560.1L393.4 559.4L394.1 558.9L394.7 558.4L395.4 558.0L396.2 557.6L396.9 557.4L397.7 557.2L398.5 557.0L399.3 557.0L400.1 557.0L400.9 557.2L401.7 557.4L402.4 557.6L403.2 558.0L403.9 558.4L404.5 558.9L405.2 559.4L405.8 560.1L406.3 560.8L406.8 561.5L407.2 562.3L407.6 563.2L407.9 564.2L407.9 565.5L408.8 565.1L409.7 564.9L410.5 564.9L411.3 565.0L412.1 565.1L412.8 565.4L413.5 565.6L414.3 566.0L414.9 566.4L415.6 566.8L416.2 567.3L416.8 567.9L417.3 568.4L417.8 569.1L418.2 569.8L418.6 570.5L418.9 571.2L419.2 572.0L419.4 572.8L419.6 573.6L419.6 574.4L419.7 575.2L419.6 576.1L419.5 576.9L419.3 577.7L419.1 578.5L418.8 579.3L418.4 580.1L417.9 580.8L417.4 581.5L416.5 582.1L417.3 582.9L417.8 583.6L418.2 584.4L418.6 585.2L418.8 586.0L419.0 586.8L419.1 587.6L419.2 588.5L419.2 589.3L419.1 590.1L419.0 590.9L418.8 591.7L418.5 592.5L418.2 593.2L417.8 594.0L417.4 594.6L416.9 595.3L416.4 595.9L415.8 596.4L415.2 596.9L414.5 597.3L413.8 597.7L413.1 598.0L412.4 598.2L411.6 598.4L410.8 598.5L410.0 598.6L409.2 598.5L408.3 598.3L407.4 597.8L407.3 599.1L407.0 600.0L406.6 600.9L406.1 601.6L405.6 602.4L405.0 603.0L404.4 603.6L403.8 604.1L403.1 604.5L402.4 604.9L401.6 605.1L400.9 605.3L400.1 605.5L399.3 605.5L398.5 605.5L397.7 605.3L397.0 605.1L396.2 604.9L395.5 604.5L394.8 604.1L394.2 603.6L393.6 603.0L393.0 602.4L392.5 601.6L392.0 600.9L391.6 600.0L391.3 599.1L391.2 597.8L390.3 598.3L389.4 598.5L388.6 598.6L387.8 598.5L387.0 598.4L386.2 598.2L385.5 598.0L384.8 597.7L384.1 597.3L383.4 596.9L382.8 596.4L382.2 595.9L381.7 595.3L381.2 594.6L380.8 594.0L380.4 593.2L380.1 592.5L379.8 591.7L379.6 590.9L379.5 590.1L379.4 589.3L379.4 588.5L379.5 587.6L379.6 586.8L379.8 586.0L380.0 585.2L380.4 584.4L380.8 583.6L381.3 582.9L382.1 582.1L381.3 581.5L380.7 580.8L380.3 580.1L379.9 579.3L379.6 578.5L379.4 577.7L379.2 576.9L379.1 576.1L379.1 575.3L379.1 574.4L379.2 573.6L379.3 572.8L379.5 572.0L379.7 571.2L380.0 570.5L380.4 569.8L380.8 569.1L381.2 568.4L381.8 567.8L382.3 567.2L382.9 566.7L383.6 566.3L384.2 565.9L385.0 565.5L385.7 565.3L386.5 565.1L387.2 564.9L388.1 564.9L388.9 564.9L389.7 565.0Z" fill="#c4cac7" stroke="#4a3036" stroke-width="1.2" filter="url(#b4)"/>
<clipPath id="p3"><path d="M390.7 565.5L390.7 564.2L391.0 563.2L391.4 562.3L391.8 561.5L392.3 560.8L392.8 560.1L393.4 559.4L394.1 558.9L394.7 558.4L395.4 558.0L396.2 557.6L396.9 557.4L397.7 557.2L398.5 557.0L399.3 557.0L400.1 557.0L400.9 557.2L401.7 557.4L402.4 557.6L403.2 558.0L403.9 558.4L404.5 558.9L405.2 559.4L405.8 560.1L406.3 560.8L406.8 561.5L407.2 562.3L407.6 563.2L407.9 564.2L407.9 565.5L408.8 565.1L409.7 564.9L410.5 564.9L411.3 565.0L412.1 565.1L412.8 565.4L413.5 565.6L414.3 566.0L414.9 566.4L415.6 566.8L416.2 567.3L416.8 567.9L417.3 568.4L417.8 569.1L418.2 569.8L418.6 570.5L418.9 571.2L419.2 572.0L419.4 572.8L419.6 573.6L419.6 574.4L419.7 575.2L419.6 576.1L419.5 576.9L419.3 577.7L419.1 578.5L418.8 579.3L418.4 580.1L417.9 580.8L417.4 581.5L416.5 582.1L417.3 582.9L417.8 583.6L418.2 584.4L418.6 585.2L418.8 586.0L419.0 586.8L419.1 587.6L419.2 588.5L419.2 589.3L419.1 590.1L419.0 590.9L418.8 591.7L418.5 592.5L418.2 593.2L417.8 594.0L417.4 594.6L416.9 595.3L416.4 595.9L415.8 596.4L415.2 596.9L414.5 597.3L413.8 597.7L413.1 598.0L412.4 598.2L411.6 598.4L410.8 598.5L410.0 598.6L409.2 598.5L408.3 598.3L407.4 597.8L407.3 599.1L407.0 600.0L406.6 600.9L406.1 601.6L405.6 602.4L405.0 603.0L404.4 603.6L403.8 604.1L403.1 604.5L402.4 604.9L401.6 605.1L400.9 605.3L400.1 605.5L399.3 605.5L398.5 605.5L397.7 605.3L397.0 605.1L396.2 604.9L395.5 604.5L394.8 604.1L394.2 603.6L393.6 603.0L393.0 602.4L392.5 601.6L392.0 600.9L391.6 600.0L391.3 599.1L391.2 597.8L390.3 598.3L389.4 598.5L388.6 598.6L387.8 598.5L387.0 598.4L386.2 598.2L385.5 598.0L384.8 597.7L384.1 597.3L383.4 596.9L382.8 596.4L382.2 595.9L381.7 595.3L381.2 594.6L380.8 594.0L380.4 593.2L380.1 592.5L379.8 591.7L379.6 590.9L379.5 590.1L379.4 589.3L379.4 588.5L379.5 587.6L379.6 586.8L379.8 586.0L380.0 585.2L380.4 584.4L380.8 583.6L381.3 582.9L382.1 582.1L381.3 581.5L380.7 580.8L380.3 580.1L379.9 579.3L379.6 578.5L379.4 577.7L379.2 576.9L379.1 576.1L379.1 575.3L379.1 574.4L379.2 573.6L379.3 572.8L379.5 572.0L379.7 571.2L380.0 570.5L380.4 569.8L380.8 569.1L381.2 568.4L381.8 567.8L382.3 567.2L382.9 566.7L383.6 566.3L384.2 565.9L385.0 565.5L385.7 565.3L386.5 565.1L387.2 564.9L388.1 564.9L388.9 564.9L389.7 565.0Z"/></clipPath>
<g clip-path="url(#p3)"><g fill="#f6faf8" stroke="#8f9996" stroke-width="0.45"><circle cx="399.3" cy="581.5" r="2.1"/><circle cx="397.5" cy="584.6" r="1.9"/><circle cx="395.8" cy="581.5" r="1.8"/><circle cx="397.0" cy="577.4" r="1.8"/><circle cx="401.6" cy="577.7" r="1.9"/><circle cx="402.6" cy="581.5" r="1.9"/><circle cx="401.1" cy="584.7" r="1.8"/><circle cx="404.4" cy="587.2" r="1.7"/><circle cx="401.0" cy="588.4" r="1.8"/><circle cx="397.6" cy="588.6" r="1.7"/><circle cx="394.7" cy="586.7" r="1.7"/><circle cx="392.3" cy="584.2" r="1.7"/><circle cx="391.5" cy="580.6" r="1.8"/><circle cx="393.6" cy="577.6" r="1.6"/><circle cx="395.9" cy="575.1" r="1.9"/><circle cx="399.3" cy="573.6" r="1.7"/><circle cx="403.0" cy="574.3" r="1.8"/><circle cx="405.6" cy="577.1" r="1.8"/><circle cx="407.2" cy="580.5" r="1.8"/><circle cx="405.9" cy="584.0" r="1.7"/><circle cx="392.9" cy="590.1" r="1.8"/><circle cx="390.6" cy="587.7" r="1.6"/><circle cx="389.3" cy="584.6" r="1.6"/><circle cx="388.3" cy="581.4" r="1.5"/><circle cx="389.3" cy="578.1" r="1.7"/><circle cx="391.0" cy="575.3" r="1.8"/><circle cx="393.1" cy="572.8" r="1.7"/><circle cx="396.0" cy="571.1" r="1.5"/><circle cx="399.4" cy="570.1" r="1.6"/><circle cx="402.6" cy="571.7" r="1.6"/><circle cx="406.1" cy="572.4" r="1.6"/><circle cx="408.4" cy="575.0" r="1.6"/><circle cx="409.4" cy="578.3" r="1.5"/><circle cx="409.8" cy="581.6" r="1.8"/><circle cx="409.5" cy="584.9" r="1.8"/><circle cx="407.6" cy="587.6" r="1.7"/><circle cx="405.6" cy="590.4" r="1.6"/><circle cx="402.7" cy="592.2" r="1.7"/><circle cx="399.2" cy="592.2" r="1.6"/><circle cx="395.9" cy="591.5" r="1.7"/><circle cx="408.6" cy="570.9" r="1.6"/><circle cx="410.3" cy="573.7" r="1.4"/><circle cx="411.9" cy="576.4" r="1.6"/><circle cx="413.0" cy="579.4" r="1.6"/><circle cx="412.9" cy="582.6" r="1.7"/><circle cx="412.1" cy="585.7" r="1.6"/><circle cx="411.2" cy="588.7" r="1.6"/><circle cx="408.9" cy="591.0" r="1.6"/><circle cx="406.8" cy="593.6" r="1.6"/><circle cx="403.8" cy="595.0" r="1.6"/><circle cx="400.6" cy="595.5" r="1.5"/><circle cx="397.3" cy="595.7" r="1.5"/><circle cx="394.2" cy="594.5" r="1.4"/><circle cx="391.6" cy="592.7" r="1.5"/><circle cx="388.6" cy="591.1" r="1.5"/><circle cx="386.8" cy="588.3" r="1.5"/><circle cx="385.8" cy="585.2" r="1.6"/><circle cx="385.1" cy="582.0" r="1.7"/><circle cx="386.1" cy="578.8" r="1.5"/><circle cx="386.5" cy="575.6" r="1.6"/><circle cx="388.2" cy="572.8" r="1.7"/><circle cx="390.6" cy="570.6" r="1.6"/><circle cx="393.4" cy="569.0" r="1.7"/><circle cx="396.5" cy="568.3" r="1.7"/><circle cx="399.6" cy="567.9" r="1.6"/><circle cx="403.0" cy="567.6" r="1.6"/><circle cx="406.1" cy="568.8" r="1.6"/><circle cx="397.0" cy="564.3" r="1.5"/><circle cx="400.1" cy="564.4" r="1.3"/><circle cx="403.2" cy="564.6" r="1.6"/><circle cx="406.0" cy="566.1" r="1.4"/><circle cx="408.6" cy="567.5" r="1.4"/><circle cx="410.8" cy="569.6" r="1.5"/><circle cx="413.1" cy="571.6" r="1.5"/><circle cx="415.0" cy="574.0" r="1.4"/><circle cx="416.0" cy="577.0" r="1.5"/><circle cx="415.8" cy="580.1" r="1.6"/><circle cx="416.2" cy="583.1" r="1.3"/><circle cx="415.1" cy="585.9" r="1.5"/><circle cx="414.9" cy="589.1" r="1.3"/><circle cx="412.5" cy="591.2" r="1.5"/><circle cx="411.0" cy="593.8" r="1.5"/><circle cx="408.2" cy="595.2" r="1.5"/><circle cx="405.8" cy="596.9" r="1.4"/><circle cx="403.1" cy="598.4" r="1.6"/><circle cx="400.0" cy="598.5" r="1.5"/><circle cx="396.9" cy="598.5" r="1.5"/><circle cx="393.9" cy="598.0" r="1.3"/><circle cx="391.0" cy="596.7" r="1.4"/><circle cx="388.9" cy="594.4" r="1.5"/><circle cx="386.2" cy="592.8" r="1.5"/><circle cx="384.6" cy="590.2" r="1.5"/><circle cx="383.7" cy="587.3" r="1.5"/><circle cx="382.6" cy="584.4" r="1.4"/><circle cx="382.8" cy="581.4" r="1.4"/><circle cx="382.8" cy="578.4" r="1.4"/><circle cx="383.5" cy="575.5" r="1.4"/><circle cx="384.6" cy="572.6" r="1.5"/><circle cx="386.4" cy="570.1" r="1.4"/><circle cx="388.7" cy="568.1" r="1.4"/><circle cx="391.4" cy="566.7" r="1.4"/><circle cx="394.1" cy="565.1" r="1.4"/><circle cx="405.5" cy="599.8" r="1.3"/><circle cx="402.8" cy="600.8" r="1.4"/><circle cx="399.9" cy="601.6" r="1.4"/><circle cx="397.1" cy="600.6" r="1.4"/><circle cx="394.2" cy="600.7" r="1.3"/><circle cx="389.0" cy="598.3" r="1.4"/><circle cx="387.0" cy="596.2" r="1.5"/><circle cx="384.6" cy="594.5" r="1.4"/><circle cx="383.2" cy="592.1" r="1.3"/><circle cx="381.5" cy="589.8" r="1.3"/><circle cx="380.4" cy="587.1" r="1.4"/><circle cx="379.9" cy="578.6" r="1.4"/><circle cx="380.7" cy="575.8" r="1.5"/><circle cx="381.7" cy="573.2" r="1.3"/><circle cx="382.7" cy="570.4" r="1.4"/><circle cx="385.0" cy="568.6" r="1.3"/><circle cx="387.0" cy="566.6" r="1.3"/><circle cx="389.4" cy="565.2" r="1.5"/><circle cx="391.7" cy="563.4" r="1.3"/><circle cx="394.4" cy="562.6" r="1.4"/><circle cx="397.3" cy="562.4" r="1.3"/><circle cx="400.1" cy="561.9" r="1.3"/><circle cx="403.0" cy="561.8" r="1.3"/><circle cx="405.7" cy="562.9" r="1.3"/><circle cx="411.0" cy="565.3" r="1.3"/><circle cx="412.6" cy="567.8" r="1.4"/><circle cx="415.2" cy="569.3" r="1.3"/><circle cx="416.2" cy="572.1" r="1.4"/><circle cx="417.6" cy="574.6" r="1.3"/><circle cx="418.6" cy="577.3" r="1.4"/><circle cx="418.4" cy="585.8" r="1.4"/><circle cx="417.1" cy="588.4" r="1.5"/><circle cx="416.2" cy="591.1" r="1.3"/><circle cx="414.6" cy="593.5" r="1.3"/><circle cx="412.7" cy="595.5" r="1.3"/><circle cx="410.5" cy="597.3" r="1.3"/><circle cx="417.2" cy="568.4" r="1.3"/><circle cx="418.4" cy="570.8" r="1.2"/><circle cx="417.5" cy="593.4" r="1.4"/><circle cx="414.1" cy="597.4" r="1.3"/><circle cx="402.5" cy="603.4" r="1.2"/><circle cx="399.9" cy="603.6" r="1.3"/><circle cx="397.3" cy="603.1" r="1.4"/><circle cx="394.5" cy="603.4" r="1.3"/><circle cx="383.3" cy="596.4" r="1.3"/><circle cx="380.2" cy="592.2" r="1.4"/><circle cx="380.7" cy="569.4" r="1.3"/><circle cx="382.6" cy="567.5" r="1.3"/><circle cx="393.5" cy="560.3" r="1.3"/><circle cx="396.0" cy="559.2" r="1.3"/><circle cx="398.7" cy="559.2" r="1.3"/><circle cx="401.4" cy="559.5" r="1.3"/><circle cx="404.1" cy="559.5" r="1.3"/><circle cx="399.2" cy="557.4" r="1.1"/><circle cx="401.6" cy="557.4" r="1.2"/></g></g>
<path d="M458.3 562.1C460.7 560.5 464.9 559.1 467.1 560.5C469.3 561.8 470.6 563.7 471.3 570.3C472.1 576.8 472.2 594.2 471.3 599.6C470.5 605.1 468.6 602.6 466.5 602.9C464.3 603.2 460.7 602.9 458.3 601.2C455.8 599.6 453.1 596.4 451.8 593.1C450.4 589.8 450.0 585.5 450.1 581.7C450.2 577.9 451.1 573.5 452.4 570.3C453.8 567.0 455.8 563.7 458.3 562.1Z" fill="#dfe3e0" filter="url(#b4)"/>
<clipPath id="p4"><path d="M458.3 562.1C460.7 560.5 464.9 559.1 467.1 560.5C469.3 561.8 470.6 563.7 471.3 570.3C472.1 576.8 472.2 594.2 471.3 599.6C470.5 605.1 468.6 602.6 466.5 602.9C464.3 603.2 460.7 602.9 458.3 601.2C455.8 599.6 453.1 596.4 451.8 593.1C450.4 589.8 450.0 585.5 450.1 581.7C450.2 577.9 451.1 573.5 452.4 570.3C453.8 567.0 455.8 563.7 458.3 562.1Z"/></clipPath>
<g clip-path="url(#p4)"><g fill="#f6faf8" stroke="#9aa5a2" stroke-width="0.4"><circle cx="457.6" cy="579.9" r="1.3"/><circle cx="463.5" cy="600.2" r="1.1"/><circle cx="453.8" cy="595.8" r="1.0"/><circle cx="464.7" cy="566.1" r="1.0"/><circle cx="459.5" cy="589.5" r="1.1"/><circle cx="463.8" cy="580.6" r="1.4"/><circle cx="467.6" cy="595.6" r="1.4"/><circle cx="457.0" cy="575.8" r="1.0"/><circle cx="466.6" cy="562.2" r="0.9"/><circle cx="460.9" cy="578.8" r="1.3"/><circle cx="460.0" cy="573.4" r="1.0"/><circle cx="459.8" cy="599.6" r="0.9"/><circle cx="470.9" cy="568.2" r="1.0"/><circle cx="466.8" cy="602.5" r="1.1"/><circle cx="467.8" cy="569.4" r="1.1"/><circle cx="463.4" cy="589.9" r="1.5"/><circle cx="460.2" cy="562.6" r="0.8"/><circle cx="464.0" cy="595.4" r="1.4"/><circle cx="467.5" cy="579.9" r="1.5"/><circle cx="468.5" cy="587.2" r="1.9"/><circle cx="458.3" cy="582.9" r="1.4"/><circle cx="452.9" cy="589.1" r="1.0"/><circle cx="450.5" cy="582.3" r="1.0"/><circle cx="460.9" cy="567.6" r="0.9"/><circle cx="456.0" cy="592.2" r="1.0"/><circle cx="454.9" cy="597.5" r="1.0"/><circle cx="458.4" cy="585.6" r="1.3"/><circle cx="468.6" cy="598.9" r="1.0"/><circle cx="452.1" cy="575.4" r="0.9"/><circle cx="454.5" cy="584.4" r="1.0"/><circle cx="465.0" cy="569.7" r="1.1"/><circle cx="457.0" cy="563.3" r="0.8"/><circle cx="469.5" cy="563.8" r="0.9"/><circle cx="452.3" cy="581.2" r="0.9"/><circle cx="460.4" cy="565.1" r="0.8"/><circle cx="455.2" cy="589.7" r="1.0"/><circle cx="469.5" cy="583.5" r="1.8"/><circle cx="459.0" cy="597.5" r="1.0"/><circle cx="454.9" cy="569.2" r="1.0"/><circle cx="456.7" cy="566.4" r="0.8"/><circle cx="454.8" cy="573.1" r="1.0"/><circle cx="464.9" cy="585.3" r="1.4"/><circle cx="458.7" cy="563.5" r="0.8"/><circle cx="466.1" cy="593.1" r="1.3"/><circle cx="453.1" cy="578.6" r="1.0"/><circle cx="458.1" cy="591.5" r="1.2"/><circle cx="470.4" cy="596.9" r="1.3"/><circle cx="468.6" cy="573.1" r="1.4"/><circle cx="457.1" cy="598.5" r="0.9"/><circle cx="466.5" cy="600.2" r="1.1"/><circle cx="451.6" cy="592.2" r="0.8"/><circle cx="458.4" cy="569.7" r="1.1"/><circle cx="466.4" cy="575.8" r="1.2"/><circle cx="464.1" cy="563.2" r="0.8"/><circle cx="462.8" cy="574.7" r="1.2"/><circle cx="461.3" cy="560.8" r="0.9"/><circle cx="469.9" cy="592.7" r="1.3"/><circle cx="452.1" cy="583.5" r="0.9"/><circle cx="454.5" cy="581.7" r="1.1"/><circle cx="461.7" cy="585.6" r="1.4"/><circle cx="468.6" cy="565.3" r="0.9"/><circle cx="456.6" cy="595.7" r="1.0"/><circle cx="461.7" cy="597.2" r="1.1"/><circle cx="462.8" cy="565.3" r="1.0"/><circle cx="462.6" cy="568.9" r="1.1"/><circle cx="452.6" cy="594.0" r="0.9"/><circle cx="464.7" cy="560.6" r="1.0"/><circle cx="471.2" cy="576.3" r="1.3"/><circle cx="471.3" cy="589.7" r="1.7"/><circle cx="454.9" cy="577.2" r="0.9"/><circle cx="468.8" cy="601.0" r="1.0"/><circle cx="458.5" cy="594.7" r="1.0"/><circle cx="457.4" cy="600.3" r="0.9"/><circle cx="460.7" cy="570.6" r="1.0"/><circle cx="460.3" cy="593.0" r="1.2"/><circle cx="457.7" cy="572.0" r="1.1"/><circle cx="468.5" cy="561.7" r="0.9"/><circle cx="450.5" cy="579.3" r="1.0"/><circle cx="457.0" cy="588.2" r="1.1"/><circle cx="452.7" cy="586.9" r="1.1"/><circle cx="459.3" cy="576.7" r="1.1"/><circle cx="466.2" cy="564.4" r="0.9"/><circle cx="451.5" cy="573.3" r="0.9"/><circle cx="470.3" cy="565.9" r="0.8"/><circle cx="470.7" cy="570.4" r="1.2"/><circle cx="450.6" cy="588.2" r="1.0"/><circle cx="461.0" cy="601.8" r="1.0"/><circle cx="465.6" cy="597.8" r="1.1"/><circle cx="463.6" cy="572.1" r="1.1"/><circle cx="450.9" cy="590.1" r="0.9"/><circle cx="471.7" cy="579.3" r="1.7"/><circle cx="451.0" cy="577.2" r="0.9"/><circle cx="454.0" cy="574.9" r="0.9"/><circle cx="454.2" cy="571.1" r="0.8"/><circle cx="465.4" cy="573.3" r="1.1"/><circle cx="458.9" cy="566.8" r="0.9"/><circle cx="464.7" cy="577.8" r="1.3"/><circle cx="452.7" cy="570.5" r="0.8"/><circle cx="467.4" cy="566.9" r="1.1"/><circle cx="454.0" cy="567.2" r="0.8"/><circle cx="462.9" cy="602.8" r="1.1"/><circle cx="461.7" cy="563.8" r="0.8"/><circle cx="453.5" cy="591.7" r="1.1"/><circle cx="458.1" cy="565.2" r="0.8"/><circle cx="461.4" cy="582.0" r="1.3"/><circle cx="456.7" cy="568.6" r="0.9"/><circle cx="450.4" cy="585.4" r="0.8"/><circle cx="463.1" cy="592.7" r="1.3"/><circle cx="455.2" cy="586.9" r="1.0"/><circle cx="469.8" cy="602.9" r="1.1"/><circle cx="470.9" cy="600.4" r="1.1"/><circle cx="471.2" cy="572.9" r="1.1"/><circle cx="454.4" cy="593.8" r="0.9"/><circle cx="467.7" cy="563.8" r="0.7"/><circle cx="471.6" cy="594.6" r="1.2"/><circle cx="459.2" cy="601.4" r="0.8"/><circle cx="455.2" cy="565.5" r="0.7"/><circle cx="466.2" cy="582.6" r="1.4"/><circle cx="455.3" cy="579.4" r="0.9"/><circle cx="461.1" cy="595.0" r="0.9"/><circle cx="462.9" cy="561.9" r="0.8"/><circle cx="467.7" cy="590.7" r="1.2"/><circle cx="462.8" cy="567.0" r="0.7"/><circle cx="468.8" cy="577.1" r="1.2"/><circle cx="455.9" cy="570.9" r="0.8"/><circle cx="469.2" cy="567.5" r="0.8"/><circle cx="466.9" cy="560.4" r="0.7"/><circle cx="466.4" cy="571.5" r="1.0"/><circle cx="464.9" cy="602.8" r="0.8"/><circle cx="461.7" cy="599.4" r="0.7"/><circle cx="456.2" cy="583.8" r="0.8"/><circle cx="458.0" cy="574.2" r="0.8"/><circle cx="461.4" cy="588.4" r="1.0"/><circle cx="461.4" cy="576.5" r="0.9"/><circle cx="453.1" cy="572.8" r="0.7"/><circle cx="465.8" cy="588.8" r="1.1"/><circle cx="457.0" cy="577.7" r="0.8"/><circle cx="456.4" cy="564.8" r="0.6"/><circle cx="452.8" cy="576.9" r="0.6"/><circle cx="471.9" cy="586.5" r="1.1"/><circle cx="460.0" cy="587.1" r="0.9"/><circle cx="452.0" cy="572.0" r="0.6"/><circle cx="455.4" cy="567.7" r="0.6"/><circle cx="457.3" cy="593.5" r="0.7"/><circle cx="458.9" cy="561.9" r="0.6"/><circle cx="463.6" cy="598.0" r="0.8"/><circle cx="456.2" cy="582.1" r="0.6"/><circle cx="465.6" cy="567.4" r="0.5"/><circle cx="459.3" cy="571.9" r="0.5"/><circle cx="450.4" cy="583.9" r="0.5"/><circle cx="463.2" cy="587.3" r="0.7"/><circle cx="456.1" cy="574.1" r="0.5"/><circle cx="460.0" cy="596.1" r="0.6"/><circle cx="464.4" cy="564.5" r="0.5"/><circle cx="461.2" cy="591.0" r="0.8"/><circle cx="464.5" cy="575.7" r="0.6"/><circle cx="471.8" cy="582.0" r="0.9"/><circle cx="455.4" cy="575.4" r="0.5"/><circle cx="456.0" cy="585.3" r="0.6"/><circle cx="460.3" cy="569.1" r="0.5"/><circle cx="461.7" cy="571.9" r="0.5"/><circle cx="463.5" cy="583.1" r="0.9"/><circle cx="464.5" cy="568.1" r="0.5"/><circle cx="453.0" cy="574.0" r="0.5"/><circle cx="456.9" cy="590.2" r="0.6"/><circle cx="460.1" cy="584.2" r="0.8"/><circle cx="460.7" cy="598.5" r="0.5"/><circle cx="459.2" cy="568.2" r="0.5"/><circle cx="456.1" cy="593.8" r="0.5"/><circle cx="454.0" cy="580.2" r="0.5"/><circle cx="460.4" cy="575.2" r="0.6"/><circle cx="453.3" cy="568.7" r="0.5"/><circle cx="469.5" cy="568.9" r="0.5"/><circle cx="468.9" cy="571.0" r="0.6"/><circle cx="452.1" cy="585.3" r="0.5"/><circle cx="463.4" cy="570.4" r="0.6"/></g></g>
</g></g>
<text x="4.7" y="15.6" font-size="19.5" font-weight="bold" font-style="normal" text-anchor="start" stroke="#000" stroke-width="0.3" transform="translate(4.7 0) scale(0.93 1) translate(-4.7 0)">A</text>
<line x1="55.2" y1="32.0" x2="55.2" y2="207.0" stroke="#000" stroke-width="1.8"/>
<line x1="54.3" y1="206.1" x2="470.5" y2="206.1" stroke="#000" stroke-width="1.8"/>
<line x1="50.2" y1="32.7" x2="55.2" y2="32.7" stroke="#000" stroke-width="1.6"/>
<text x="47.6" y="35.9" font-size="12.1" font-weight="bold" font-style="normal" text-anchor="end" stroke="#000" stroke-width="0.3" >50</text>
<line x1="50.2" y1="62.6" x2="55.2" y2="62.6" stroke="#000" stroke-width="1.6"/>
<text x="47.6" y="66.1" font-size="12.1" font-weight="bold" font-style="normal" text-anchor="end" stroke="#000" stroke-width="0.3" >40</text>
<line x1="50.2" y1="99.4" x2="55.2" y2="99.4" stroke="#000" stroke-width="1.6"/>
<text x="47.6" y="103.8" font-size="12.1" font-weight="bold" font-style="normal" text-anchor="end" stroke="#000" stroke-width="0.3" >30</text>
<line x1="50.2" y1="134.5" x2="55.2" y2="134.5" stroke="#000" stroke-width="1.6"/>
<text x="47.6" y="139.3" font-size="12.1" font-weight="bold" font-style="normal" text-anchor="end" stroke="#000" stroke-width="0.3" >20</text>
<line x1="50.2" y1="170.4" x2="55.2" y2="170.4" stroke="#000" stroke-width="1.6"/>
<text x="47.6" y="175.4" font-size="12.1" font-weight="bold" font-style="normal" text-anchor="end" stroke="#000" stroke-width="0.3" >10</text>
<text transform="translate(24.3 189.5) rotate(-90)" font-size="12.3" font-weight="bold" stroke="#000" stroke-width="0.3" textLength="157.5" lengthAdjust="spacingAndGlyphs">µg/mg of rosette cell walls</text>
<rect x="108.50" y="45.20" width="4.30" height="3.80" fill="#30bff5"/>
<text x="117.3" y="51.0" font-size="12.2" font-weight="bold" font-style="normal" text-anchor="start" stroke="#000" stroke-width="0.3" >Col</text>
<rect x="108.50" y="59.10" width="4.30" height="3.80" fill="#f99a36"/>
<text x="117.0" y="65.1" font-size="12.55" font-weight="bold" font-style="italic" text-anchor="start" stroke="#000" stroke-width="0.3" >Irx3 Irx4</text>
<rect x="108.50" y="72.30" width="4.30" height="3.80" fill="#2a63b4"/>
<text x="117.0" y="78.5" font-size="12.55" font-weight="bold" font-style="italic" text-anchor="start" stroke="#000" stroke-width="0.3" >Irx3 Irx4 Irx5</text>
<rect x="65.00" y="168.00" width="9.85" height="37.40" fill="#30bff5"/>
<rect x="74.85" y="177.00" width="9.85" height="28.40" fill="#f99a36"/>
<rect x="84.70" y="174.00" width="9.85" height="31.40" fill="#2a63b4"/>
<path d="M68.12 166.65H71.72M68.12 168.65H71.72M69.92 166.10V169.20" stroke="#000" stroke-width="1.2" fill="none"/>
<rect x="77.97" y="175.25" width="3.60" height="2.8" rx="1" fill="#000"/>
<path d="M87.83 173.25H91.42M87.83 174.55H91.42M89.62 172.70V175.10" stroke="#000" stroke-width="1.2" fill="none"/>
<rect x="110.00" y="107.80" width="9.85" height="97.60" fill="#30bff5"/>
<rect x="119.85" y="147.30" width="9.85" height="58.10" fill="#f99a36"/>
<rect x="129.70" y="144.00" width="9.85" height="61.40" fill="#2a63b4"/>
<path d="M113.12 105.15H116.72M113.12 109.75H116.72M114.92 104.60V110.30" stroke="#000" stroke-width="1.2" fill="none"/>
<path d="M122.97 146.05H126.57M122.97 147.95H126.57M124.77 145.50V148.50" stroke="#000" stroke-width="1.2" fill="none"/>
<path d="M132.82 142.05H136.43M132.82 145.95H136.43M134.62 141.50V146.50" stroke="#000" stroke-width="1.2" fill="none"/>
<rect x="154.50" y="121.40" width="9.85" height="84.00" fill="#30bff5"/>
<rect x="164.35" y="142.30" width="9.85" height="63.10" fill="#f99a36"/>
<rect x="174.20" y="132.80" width="9.85" height="72.60" fill="#2a63b4"/>
<path d="M157.62 119.45H161.23M157.62 123.45H161.23M159.43 118.90V124.00" stroke="#000" stroke-width="1.2" fill="none"/>
<path d="M167.47 141.55H171.08M167.47 142.95H171.08M169.28 141.00V143.50" stroke="#000" stroke-width="1.2" fill="none"/>
<path d="M177.32 130.35H180.93M177.32 135.45H180.93M179.12 129.80V136.00" stroke="#000" stroke-width="1.2" fill="none"/>
<rect x="199.20" y="64.90" width="9.85" height="140.50" fill="#30bff5"/>
<rect x="209.05" y="109.70" width="9.85" height="95.70" fill="#f99a36"/>
<rect x="218.90" y="106.90" width="9.85" height="98.50" fill="#2a63b4"/>
<path d="M202.32 64.05H205.93M202.32 65.65H205.93M204.12 63.50V66.20" stroke="#000" stroke-width="1.2" fill="none"/>
<path d="M212.17 108.95H215.78M212.17 110.45H215.78M213.97 108.40V111.00" stroke="#000" stroke-width="1.2" fill="none"/>
<path d="M222.02 104.15H225.62M222.02 109.75H225.62M223.82 103.60V110.30" stroke="#000" stroke-width="1.2" fill="none"/>
<rect x="244.20" y="127.40" width="9.85" height="78.00" fill="#30bff5"/>
<rect x="254.05" y="140.50" width="9.85" height="64.90" fill="#f99a36"/>
<rect x="263.90" y="131.00" width="9.85" height="74.40" fill="#2a63b4"/>
<path d="M247.32 125.85H250.93M247.32 128.45H250.93M249.12 125.30V129.00" stroke="#000" stroke-width="1.2" fill="none"/>
<rect x="257.17" y="139.55" width="3.60" height="1.8" fill="#000"/>
<path d="M267.02 128.75H270.62M267.02 132.75H270.62M268.82 128.20V133.30" stroke="#000" stroke-width="1.2" fill="none"/>
<rect x="288.90" y="80.80" width="9.85" height="124.60" fill="#30bff5"/>
<rect x="298.75" y="115.10" width="9.85" height="90.30" fill="#f99a36"/>
<rect x="308.60" y="105.80" width="9.85" height="99.60" fill="#2a63b4"/>
<path d="M292.02 78.15H295.62M292.02 83.45H295.62M293.82 77.60V84.00" stroke="#000" stroke-width="1.2" fill="none"/>
<path d="M301.88 114.15H305.48M301.88 116.25H305.48M303.68 113.60V116.80" stroke="#000" stroke-width="1.2" fill="none"/>
<path d="M311.72 102.95H315.32M311.72 108.65H315.32M313.52 102.40V109.20" stroke="#000" stroke-width="1.2" fill="none"/>
<rect x="333.10" y="123.70" width="9.85" height="81.70" fill="#30bff5"/>
<rect x="342.95" y="113.10" width="9.85" height="92.30" fill="#f99a36"/>
<rect x="352.80" y="76.00" width="9.85" height="129.40" fill="#2a63b4"/>
<path d="M336.23 121.65H339.83M336.23 125.25H339.83M338.03 121.10V125.80" stroke="#000" stroke-width="1.2" fill="none"/>
<rect x="346.08" y="111.70" width="3.60" height="2.8" rx="1" fill="#000"/>
<path d="M355.93 69.15H359.53M355.93 81.85H359.53M357.73 68.60V82.40" stroke="#000" stroke-width="1.2" fill="none"/>
<rect x="378.30" y="185.10" width="9.85" height="20.30" fill="#30bff5"/>
<rect x="388.15" y="188.40" width="9.85" height="17.00" fill="#f99a36"/>
<rect x="398.00" y="187.00" width="9.85" height="18.40" fill="#2a63b4"/>
<path d="M381.43 184.15H385.03M381.43 186.05H385.03M383.23 183.60V186.60" stroke="#000" stroke-width="1.2" fill="none"/>
<path d="M391.28 187.55H394.88M391.28 189.05H394.88M393.08 187.00V189.60" stroke="#000" stroke-width="1.2" fill="none"/>
<path d="M401.12 186.35H404.73M401.12 187.75H404.73M402.93 185.80V188.30" stroke="#000" stroke-width="1.2" fill="none"/>
<rect x="422.90" y="109.50" width="9.85" height="95.90" fill="#30bff5"/>
<rect x="432.75" y="114.20" width="9.85" height="91.20" fill="#f99a36"/>
<rect x="442.60" y="73.50" width="9.85" height="131.90" fill="#2a63b4"/>
<path d="M426.02 108.55H429.62M426.02 110.45H429.62M427.82 108.00V111.00" stroke="#000" stroke-width="1.2" fill="none"/>
<path d="M435.88 113.55H439.48M435.88 114.95H439.48M437.68 113.00V115.50" stroke="#000" stroke-width="1.2" fill="none"/>
<path d="M445.72 67.05H449.32M445.72 79.75H449.32M447.52 66.50V80.30" stroke="#000" stroke-width="1.2" fill="none"/>
<text x="77.5" y="221.8" font-size="12" font-weight="bold" font-style="normal" text-anchor="middle" stroke="#000" stroke-width="0.3" >Fuc</text>
<text x="121.7" y="221.8" font-size="12" font-weight="bold" font-style="normal" text-anchor="middle" stroke="#000" stroke-width="0.3" >Rha</text>
<text x="166.7" y="221.8" font-size="12" font-weight="bold" font-style="normal" text-anchor="middle" stroke="#000" stroke-width="0.3" >Ara</text>
<text x="210.7" y="221.8" font-size="12" font-weight="bold" font-style="normal" text-anchor="middle" stroke="#000" stroke-width="0.3" >Gal</text>
<text x="258.6" y="221.8" font-size="12" font-weight="bold" font-style="normal" text-anchor="middle" stroke="#000" stroke-width="0.3" >Glc</text>
<text x="298.0" y="221.8" font-size="12" font-weight="bold" font-style="normal" text-anchor="middle" stroke="#000" stroke-width="0.3" >Xyl</text>
<text x="346.0" y="221.8" font-size="12" font-weight="bold" font-style="normal" text-anchor="middle" stroke="#000" stroke-width="0.3" >Man</text>
<text x="394.0" y="221.8" font-size="12" font-weight="bold" font-style="normal" text-anchor="middle" textLength="37.4" lengthAdjust="spacingAndGlyphs" stroke="#000" stroke-width="0.3" >Glc (C)</text>
<text x="438.9" y="221.8" font-size="12" font-weight="bold" font-style="normal" text-anchor="middle" stroke="#000" stroke-width="0.3" >lignin</text>
<path d="M124.80 133.60L127.40 133.60M124.80 133.60L125.60 136.07M124.80 133.60L122.70 135.13M124.80 133.60L122.70 132.07M124.80 133.60L125.60 131.13" stroke="#000" stroke-width="1.5" stroke-linecap="round" fill="none"/>
<path d="M134.90 130.90L137.50 130.90M134.90 130.90L135.70 133.37M134.90 130.90L132.80 132.43M134.90 130.90L132.80 129.37M134.90 130.90L135.70 128.43" stroke="#000" stroke-width="1.5" stroke-linecap="round" fill="none"/>
<path d="M214.60 92.80L217.20 92.80M214.60 92.80L215.40 95.27M214.60 92.80L212.50 94.33M214.60 92.80L212.50 91.27M214.60 92.80L215.40 90.33" stroke="#000" stroke-width="1.5" stroke-linecap="round" fill="none"/>
<path d="M223.20 91.80L225.80 91.80M223.20 91.80L224.00 94.27M223.20 91.80L221.10 93.33M223.20 91.80L221.10 90.27M223.20 91.80L224.00 89.33" stroke="#000" stroke-width="1.5" stroke-linecap="round" fill="none"/>
<path d="M356.80 57.50L359.40 57.50M356.80 57.50L357.60 59.97M356.80 57.50L354.70 59.03M356.80 57.50L354.70 55.97M356.80 57.50L357.60 55.03" stroke="#000" stroke-width="1.5" stroke-linecap="round" fill="none"/>
<path d="M447.50 55.30L450.10 55.30M447.50 55.30L448.30 57.77M447.50 55.30L445.40 56.83M447.50 55.30L445.40 53.77M447.50 55.30L448.30 52.83" stroke="#000" stroke-width="1.5" stroke-linecap="round" fill="none"/>
<text x="4.5" y="255.1" font-size="19.5" font-weight="bold" font-style="normal" text-anchor="start" stroke="#000" stroke-width="0.3" transform="translate(4.5 0) scale(0.91 1) translate(-4.5 0)">B</text>
<line x1="48.6" y1="272.1" x2="48.6" y2="335.5" stroke="#000" stroke-width="1.8"/>
<line x1="48.6" y1="342.6" x2="48.6" y2="447.0" stroke="#000" stroke-width="1.8"/>
<line x1="47.7" y1="446.1" x2="463.9" y2="446.1" stroke="#000" stroke-width="1.8"/>
<line x1="43.6" y1="272.9" x2="48.6" y2="272.9" stroke="#000" stroke-width="1.6"/>
<text x="35.5" y="276.7" font-size="12.1" font-weight="bold" font-style="normal" text-anchor="end" stroke="#000" stroke-width="0.3" >400</text>
<line x1="43.6" y1="295.8" x2="48.6" y2="295.8" stroke="#000" stroke-width="1.6"/>
<text x="35.5" y="300.7" font-size="12.1" font-weight="bold" font-style="normal" text-anchor="end" stroke="#000" stroke-width="0.3" >300</text>
<line x1="43.6" y1="319.2" x2="48.6" y2="319.2" stroke="#000" stroke-width="1.6"/>
<text x="35.5" y="323.59999999999997" font-size="12.1" font-weight="bold" font-style="normal" text-anchor="end" stroke="#000" stroke-width="0.3" >200</text>
<line x1="43.6" y1="347.7" x2="48.6" y2="347.7" stroke="#000" stroke-width="1.6"/>
<text x="35.5" y="353.59999999999997" font-size="12.1" font-weight="bold" font-style="normal" text-anchor="end" stroke="#000" stroke-width="0.3" >90</text>
<line x1="43.6" y1="392.6" x2="48.6" y2="392.6" stroke="#000" stroke-width="1.6"/>
<text x="35.5" y="399.0" font-size="12.1" font-weight="bold" font-style="normal" text-anchor="end" stroke="#000" stroke-width="0.3" >45</text>
<line x1="43.6" y1="434.3" x2="48.6" y2="434.3" stroke="#000" stroke-width="1.6"/>
<text x="35.5" y="439.9" font-size="12.1" font-weight="bold" font-style="normal" text-anchor="end" stroke="#000" stroke-width="0.3" >10</text>
<path d="M41.8 342.0L55.9 333.9M42.1 344.4L56.2 336.3" stroke="#111" stroke-width="0.85" fill="none"/>
<text transform="translate(11.2 430) rotate(-90)" font-size="12.3" font-weight="bold" stroke="#000" stroke-width="0.3" textLength="151" lengthAdjust="spacingAndGlyphs">µg/mg of stem cell walls</text>
<rect x="98.60" y="278.00" width="4.30" height="3.80" fill="#30bff5"/>
<text x="109.0" y="283.9" font-size="12.2" font-weight="bold" font-style="normal" text-anchor="start" stroke="#000" stroke-width="0.3" >Col</text>
<rect x="98.60" y="291.60" width="4.30" height="3.80" fill="#f99a36"/>
<text x="108.8" y="298.3" font-size="12.55" font-weight="bold" font-style="italic" text-anchor="start" stroke="#000" stroke-width="0.3" >Irx3 Irx4</text>
<rect x="98.60" y="305.30" width="4.30" height="3.80" fill="#2a63b4"/>
<text x="108.8" y="311.3" font-size="12.55" font-weight="bold" font-style="italic" text-anchor="start" stroke="#000" stroke-width="0.3" >Irx3 Irx4 Irx5</text>
<rect x="53.50" y="444.40" width="9.85" height="1.00" fill="#30bff5"/>
<rect x="63.35" y="444.20" width="9.85" height="1.20" fill="#f99a36"/>
<rect x="73.20" y="444.40" width="9.85" height="1.00" fill="#2a63b4"/>
<rect x="56.62" y="443.20" width="3.60" height="1.8" fill="#000"/>
<rect x="66.48" y="443.00" width="3.60" height="1.8" fill="#000"/>
<rect x="76.33" y="443.25" width="3.60" height="1.8" fill="#000"/>
<rect x="99.00" y="430.70" width="9.85" height="14.70" fill="#30bff5"/>
<rect x="108.85" y="421.20" width="9.85" height="24.20" fill="#f99a36"/>
<rect x="118.70" y="428.00" width="9.85" height="17.40" fill="#2a63b4"/>
<path d="M102.12 426.35H105.72M102.12 434.45H105.72M103.92 425.80V435.00" stroke="#000" stroke-width="1.2" fill="none"/>
<path d="M111.97 419.15H115.57M111.97 422.75H115.57M113.77 418.60V423.30" stroke="#000" stroke-width="1.2" fill="none"/>
<rect x="121.83" y="426.60" width="3.60" height="2.8" rx="1" fill="#000"/>
<rect x="143.50" y="439.20" width="9.85" height="6.20" fill="#30bff5"/>
<rect x="153.35" y="436.00" width="9.85" height="9.40" fill="#f99a36"/>
<rect x="163.20" y="437.70" width="9.85" height="7.70" fill="#2a63b4"/>
<path d="M146.62 437.65H150.23M146.62 440.75H150.23M148.43 437.10V441.30" stroke="#000" stroke-width="1.2" fill="none"/>
<path d="M156.47 435.55H160.08M156.47 436.95H160.08M158.28 435.00V437.50" stroke="#000" stroke-width="1.2" fill="none"/>
<rect x="166.32" y="436.90" width="3.60" height="1.8" fill="#000"/>
<rect x="189.00" y="422.70" width="9.85" height="22.70" fill="#30bff5"/>
<rect x="198.85" y="412.70" width="9.85" height="32.70" fill="#f99a36"/>
<rect x="208.70" y="421.60" width="9.85" height="23.80" fill="#2a63b4"/>
<path d="M192.12 419.65H195.73M192.12 424.85H195.73M193.93 419.10V425.40" stroke="#000" stroke-width="1.2" fill="none"/>
<path d="M201.97 409.65H205.58M201.97 414.95H205.58M203.78 409.10V415.50" stroke="#000" stroke-width="1.2" fill="none"/>
<path d="M211.82 421.05H215.43M211.82 422.45H215.43M213.62 420.50V423.00" stroke="#000" stroke-width="1.2" fill="none"/>
<rect x="234.00" y="438.90" width="9.85" height="6.50" fill="#30bff5"/>
<rect x="243.85" y="435.70" width="9.85" height="9.70" fill="#f99a36"/>
<rect x="253.70" y="438.30" width="9.85" height="7.10" fill="#2a63b4"/>
<rect x="237.12" y="437.60" width="3.60" height="2.8" rx="1" fill="#000"/>
<path d="M246.97 434.55H250.58M246.97 437.35H250.58M248.78 434.00V437.90" stroke="#000" stroke-width="1.2" fill="none"/>
<rect x="256.82" y="437.45" width="3.60" height="1.8" fill="#000"/>
<rect x="279.10" y="397.70" width="9.85" height="47.70" fill="#30bff5"/>
<rect x="288.95" y="353.50" width="9.85" height="91.90" fill="#f99a36"/>
<rect x="298.80" y="363.90" width="9.85" height="81.50" fill="#2a63b4"/>
<path d="M282.23 384.35H285.83M282.23 412.55H285.83M284.03 383.80V413.10" stroke="#000" stroke-width="1.2" fill="none"/>
<path d="M292.08 346.95H295.68M292.08 360.85H295.68M293.88 346.40V361.40" stroke="#000" stroke-width="1.2" fill="none"/>
<path d="M301.93 358.05H305.53M301.93 369.75H305.53M303.73 357.50V370.30" stroke="#000" stroke-width="1.2" fill="none"/>
<rect x="324.20" y="436.90" width="9.85" height="8.50" fill="#30bff5"/>
<rect x="334.05" y="433.50" width="9.85" height="11.90" fill="#f99a36"/>
<rect x="343.90" y="434.20" width="9.85" height="11.20" fill="#2a63b4"/>
<path d="M327.32 433.85H330.93M327.32 440.55H330.93M329.12 433.30V441.10" stroke="#000" stroke-width="1.2" fill="none"/>
<path d="M337.18 429.35H340.78M337.18 437.65H340.78M338.98 428.80V438.20" stroke="#000" stroke-width="1.2" fill="none"/>
<rect x="347.02" y="433.30" width="3.60" height="1.8" fill="#000"/>
<rect x="369.90" y="312.90" width="9.85" height="132.50" fill="#30bff5"/>
<rect x="379.75" y="286.10" width="9.85" height="159.30" fill="#f99a36"/>
<rect x="389.60" y="295.40" width="9.85" height="150.00" fill="#2a63b4"/>
<path d="M373.02 304.75H376.62M373.02 319.85H376.62M374.82 304.20V320.40" stroke="#000" stroke-width="1.2" fill="none"/>
<path d="M382.88 274.05H386.48M382.88 297.95H386.48M384.68 273.50V298.50" stroke="#000" stroke-width="1.2" fill="none"/>
<path d="M392.72 291.05H396.32M392.72 299.55H396.32M394.52 290.50V300.10" stroke="#000" stroke-width="1.2" fill="none"/>
<rect x="414.90" y="332.10" width="9.85" height="113.30" fill="#30bff5"/>
<rect x="424.75" y="327.40" width="9.85" height="118.00" fill="#f99a36"/>
<rect x="434.60" y="319.60" width="9.85" height="125.80" fill="#2a63b4"/>
<path d="M418.02 330.65H421.62M418.02 333.85H421.62M419.82 330.10V334.40" stroke="#000" stroke-width="1.2" fill="none"/>
<path d="M427.88 324.25H431.48M427.88 330.65H431.48M429.68 323.70V331.20" stroke="#000" stroke-width="1.2" fill="none"/>
<path d="M437.72 317.75H441.32M437.72 321.85H441.32M439.52 317.20V322.40" stroke="#000" stroke-width="1.2" fill="none"/>
<polygon points="363.2,344.3 406.1,335.4 406.1,343.4 363.2,352.3" fill="#fff"/>
<path d="M363.2 347.3L406.1 338.4M363.2 350.3L406.1 341.4" stroke="#111" stroke-width="1.45" fill="none"/>
<polygon points="409.1,344.0 451.6,334.9 451.6,342.9 409.1,352.0" fill="#fff"/>
<path d="M409.1 347.0L451.6 337.9M409.1 350.0L451.6 340.9" stroke="#111" stroke-width="1.45" fill="none"/>
<text x="70.8" y="462.5" font-size="12" font-weight="bold" font-style="normal" text-anchor="middle" stroke="#000" stroke-width="0.3" >Fuc</text>
<text x="115.0" y="462.5" font-size="12" font-weight="bold" font-style="normal" text-anchor="middle" stroke="#000" stroke-width="0.3" >Rha</text>
<text x="159.4" y="462.5" font-size="12" font-weight="bold" font-style="normal" text-anchor="middle" stroke="#000" stroke-width="0.3" >Ara</text>
<text x="203.6" y="462.5" font-size="12" font-weight="bold" font-style="normal" text-anchor="middle" stroke="#000" stroke-width="0.3" >Gal</text>
<text x="249.2" y="462.5" font-size="12" font-weight="bold" font-style="normal" text-anchor="middle" stroke="#000" stroke-width="0.3" >Glc</text>
<text x="291.5" y="462.5" font-size="12" font-weight="bold" font-style="normal" text-anchor="middle" stroke="#000" stroke-width="0.3" >Xyl</text>
<text x="339.2" y="462.5" font-size="12" font-weight="bold" font-style="normal" text-anchor="middle" stroke="#000" stroke-width="0.3" >Man</text>
<text x="386.7" y="462.5" font-size="12" font-weight="bold" font-style="normal" text-anchor="middle" stroke="#000" stroke-width="0.3" >Glc (C)</text>
<text x="432.4" y="462.5" font-size="12" font-weight="bold" font-style="normal" text-anchor="middle" stroke="#000" stroke-width="0.3" >lignin</text>
<path d="M69.20 430.30L71.80 430.30M69.20 430.30L70.00 432.77M69.20 430.30L67.10 431.83M69.20 430.30L67.10 428.77M69.20 430.30L70.00 427.83" stroke="#000" stroke-width="1.5" stroke-linecap="round" fill="none"/>
<path d="M113.70 405.30L116.30 405.30M113.70 405.30L114.50 407.77M113.70 405.30L111.60 406.83M113.70 405.30L111.60 403.77M113.70 405.30L114.50 402.83" stroke="#000" stroke-width="1.5" stroke-linecap="round" fill="none"/>
<path d="M158.10 419.50L160.70 419.50M158.10 419.50L158.90 421.97M158.10 419.50L156.00 421.03M158.10 419.50L156.00 417.97M158.10 419.50L158.90 417.03" stroke="#000" stroke-width="1.5" stroke-linecap="round" fill="none"/>
<path d="M204.40 393.00L207.00 393.00M204.40 393.00L205.20 395.47M204.40 393.00L202.30 394.53M204.40 393.00L202.30 391.47M204.40 393.00L205.20 390.53" stroke="#000" stroke-width="1.5" stroke-linecap="round" fill="none"/>
<path d="M249.40 419.50L252.00 419.50M249.40 419.50L250.20 421.97M249.40 419.50L247.30 421.03M249.40 419.50L247.30 417.97M249.40 419.50L250.20 417.03" stroke="#000" stroke-width="1.5" stroke-linecap="round" fill="none"/>
<text x="4.3" y="495.5" font-size="19.5" font-weight="bold" font-style="normal" text-anchor="start" stroke="#000" stroke-width="0.3" transform="translate(4.3 0) scale(0.93 1) translate(-4.3 0)">C</text>
<text x="79.5" y="653.5" font-size="17.5" font-weight="bold" font-style="normal" text-anchor="middle" textLength="27.3" lengthAdjust="spacingAndGlyphs" stroke="#000" stroke-width="0.3" >Col</text>
<text x="246.3" y="653.0" font-size="16.3" font-weight="bold" font-style="italic" text-anchor="middle" textLength="70.6" lengthAdjust="spacing" stroke="#000" stroke-width="0.15" >Irx3 Irx4</text>
<text x="396.2" y="653.2" font-size="16.3" font-weight="bold" font-style="italic" text-anchor="middle" textLength="108.3" lengthAdjust="spacing" stroke="#000" stroke-width="0.15" >Irx3 Irx4 Irx5</text>
</svg>
</body></html>
